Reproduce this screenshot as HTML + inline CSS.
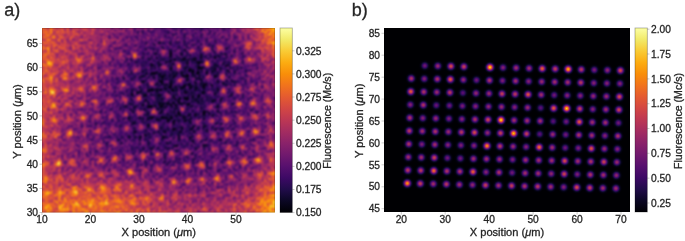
<!DOCTYPE html>
<html><head><meta charset="utf-8"><style>
html,body{margin:0;padding:0;background:#fff;}
body{width:685px;height:241px;overflow:hidden;}
svg{display:block;}
text{font-family:"Liberation Sans",sans-serif;fill:#262626;stroke:#262626;stroke-width:0.3px;}
</style></head><body>
<svg width="685" height="241" viewBox="0 0 685 241">
<defs>
<filter id="cmL" x="0" y="0" width="1" height="1" color-interpolation-filters="sRGB"><feTurbulence type="fractalNoise" baseFrequency="0.36" numOctaves="2" seed="4" result="t"/><feColorMatrix in="t" type="matrix" values="1 0 0 0 0  1 0 0 0 0  1 0 0 0 0  0 0 0 0 1" result="n"/><feComposite in="SourceGraphic" in2="n" operator="arithmetic" k1="0" k2="1" k3="0.62" k4="-0.310" result="m"/><feComponentTransfer in="m"><feFuncR type="table" tableValues="0.001 0.008 0.019 0.042 0.066 0.099 0.129 0.170 0.204 0.245 0.278 0.310 0.348 0.379 0.416 0.447 0.485 0.516 0.553 0.585 0.616 0.652 0.683 0.718 0.747 0.781 0.807 0.837 0.861 0.882 0.906 0.923 0.942 0.955 0.967 0.976 0.983 0.987 0.988 0.987 0.983 0.976 0.968 0.957 0.949 0.948 0.962 0.988"/><feFuncG type="table" tableValues="0.000 0.006 0.015 0.028 0.039 0.046 0.047 0.042 0.038 0.037 0.042 0.051 0.065 0.076 0.090 0.102 0.115 0.126 0.139 0.150 0.162 0.176 0.190 0.207 0.222 0.243 0.263 0.288 0.312 0.337 0.370 0.399 0.436 0.469 0.509 0.544 0.587 0.623 0.660 0.706 0.744 0.790 0.829 0.874 0.910 0.949 0.976 0.998"/><feFuncB type="table" tableValues="0.014 0.047 0.089 0.141 0.187 0.244 0.291 0.341 0.373 0.400 0.414 0.424 0.430 0.433 0.433 0.431 0.427 0.421 0.412 0.402 0.391 0.376 0.361 0.341 0.323 0.300 0.279 0.253 0.231 0.208 0.179 0.155 0.125 0.100 0.069 0.044 0.025 0.028 0.052 0.096 0.138 0.196 0.250 0.324 0.395 0.491 0.572 0.645"/><feFuncA type="identity"/></feComponentTransfer><feGaussianBlur stdDeviation="0.9"/></filter>
<filter id="cmR" x="0" y="0" width="1" height="1" color-interpolation-filters="sRGB"><feComponentTransfer in="SourceGraphic"><feFuncR type="table" tableValues="0.001 0.008 0.019 0.042 0.066 0.099 0.129 0.170 0.204 0.245 0.278 0.310 0.348 0.379 0.416 0.447 0.485 0.516 0.553 0.585 0.616 0.652 0.683 0.718 0.747 0.781 0.807 0.837 0.861 0.882 0.906 0.923 0.942 0.955 0.967 0.976 0.983 0.987 0.988 0.987 0.983 0.976 0.968 0.957 0.949 0.948 0.962 0.988"/><feFuncG type="table" tableValues="0.000 0.006 0.015 0.028 0.039 0.046 0.047 0.042 0.038 0.037 0.042 0.051 0.065 0.076 0.090 0.102 0.115 0.126 0.139 0.150 0.162 0.176 0.190 0.207 0.222 0.243 0.263 0.288 0.312 0.337 0.370 0.399 0.436 0.469 0.509 0.544 0.587 0.623 0.660 0.706 0.744 0.790 0.829 0.874 0.910 0.949 0.976 0.998"/><feFuncB type="table" tableValues="0.014 0.047 0.089 0.141 0.187 0.244 0.291 0.341 0.373 0.400 0.414 0.424 0.430 0.433 0.433 0.431 0.427 0.421 0.412 0.402 0.391 0.376 0.361 0.341 0.323 0.300 0.279 0.253 0.231 0.208 0.179 0.155 0.125 0.100 0.069 0.044 0.025 0.028 0.052 0.096 0.138 0.196 0.250 0.324 0.395 0.491 0.572 0.645"/><feFuncA type="identity"/></feComponentTransfer><feGaussianBlur stdDeviation="0.5"/></filter>
<filter id="tb" x="-0.05" y="-0.05" width="1.1" height="1.1"><feGaussianBlur stdDeviation="0.35"/></filter>
<filter id="blur" x="-0.2" y="-0.2" width="1.4" height="1.4"><feGaussianBlur stdDeviation="4"/></filter>
<radialGradient id="g"><stop offset="0.0" stop-color="#fff" stop-opacity="1.000"/><stop offset="0.1" stop-color="#fff" stop-opacity="0.956"/><stop offset="0.2" stop-color="#fff" stop-opacity="0.835"/><stop offset="0.3" stop-color="#fff" stop-opacity="0.667"/><stop offset="0.4" stop-color="#fff" stop-opacity="0.487"/><stop offset="0.5" stop-color="#fff" stop-opacity="0.325"/><stop offset="0.6" stop-color="#fff" stop-opacity="0.198"/><stop offset="0.7" stop-color="#fff" stop-opacity="0.110"/><stop offset="0.8" stop-color="#fff" stop-opacity="0.056"/><stop offset="0.9" stop-color="#fff" stop-opacity="0.026"/><stop offset="1.0" stop-color="#fff" stop-opacity="0.000"/></radialGradient>
<linearGradient id="cb" x1="0" y1="0" x2="0" y2="1"><stop offset="0.0000" stop-color="#fcffa4"/><stop offset="0.0625" stop-color="#f2ea69"/><stop offset="0.1250" stop-color="#f9cb35"/><stop offset="0.1875" stop-color="#fcac11"/><stop offset="0.2500" stop-color="#f98e09"/><stop offset="0.3125" stop-color="#f1731d"/><stop offset="0.3750" stop-color="#e45a31"/><stop offset="0.4375" stop-color="#d24644"/><stop offset="0.5000" stop-color="#bc3754"/><stop offset="0.5625" stop-color="#a32c61"/><stop offset="0.6250" stop-color="#8a226a"/><stop offset="0.6875" stop-color="#71196e"/><stop offset="0.7500" stop-color="#57106e"/><stop offset="0.8125" stop-color="#3d0965"/><stop offset="0.8750" stop-color="#210c4a"/><stop offset="0.9375" stop-color="#0b0724"/><stop offset="1.0000" stop-color="#000004"/></linearGradient>
</defs>
<rect width="685" height="241" fill="#fff"/>
<svg x="42" y="28" width="233" height="184.5" overflow="hidden">
<g filter="url(#cmL)">
<g filter="url(#blur)"><rect x="-18" y="-18" width="6" height="6" fill="rgb(163,163,163)"/><rect x="-12" y="-18" width="6" height="6" fill="rgb(163,163,163)"/><rect x="-6" y="-18" width="6" height="6" fill="rgb(163,163,163)"/><rect x="0" y="-18" width="6" height="6" fill="rgb(162,162,162)"/><rect x="6" y="-18" width="6" height="6" fill="rgb(153,153,153)"/><rect x="12" y="-18" width="6" height="6" fill="rgb(142,142,142)"/><rect x="18" y="-18" width="6" height="6" fill="rgb(135,135,135)"/><rect x="24" y="-18" width="6" height="6" fill="rgb(131,131,131)"/><rect x="30" y="-18" width="6" height="6" fill="rgb(127,127,127)"/><rect x="36" y="-18" width="6" height="6" fill="rgb(124,124,124)"/><rect x="42" y="-18" width="6" height="6" fill="rgb(119,119,119)"/><rect x="48" y="-18" width="6" height="6" fill="rgb(113,113,113)"/><rect x="54" y="-18" width="6" height="6" fill="rgb(106,106,106)"/><rect x="60" y="-18" width="6" height="6" fill="rgb(100,100,100)"/><rect x="66" y="-18" width="6" height="6" fill="rgb(94,94,94)"/><rect x="72" y="-18" width="6" height="6" fill="rgb(89,89,89)"/><rect x="78" y="-18" width="6" height="6" fill="rgb(84,84,84)"/><rect x="84" y="-18" width="6" height="6" fill="rgb(80,80,80)"/><rect x="90" y="-18" width="6" height="6" fill="rgb(75,75,75)"/><rect x="96" y="-18" width="6" height="6" fill="rgb(71,71,71)"/><rect x="102" y="-18" width="6" height="6" fill="rgb(69,69,69)"/><rect x="108" y="-18" width="6" height="6" fill="rgb(67,67,67)"/><rect x="114" y="-18" width="6" height="6" fill="rgb(65,65,65)"/><rect x="120" y="-18" width="6" height="6" fill="rgb(63,63,63)"/><rect x="126" y="-18" width="6" height="6" fill="rgb(61,61,61)"/><rect x="132" y="-18" width="6" height="6" fill="rgb(61,61,61)"/><rect x="138" y="-18" width="6" height="6" fill="rgb(61,61,61)"/><rect x="144" y="-18" width="6" height="6" fill="rgb(61,61,61)"/><rect x="150" y="-18" width="6" height="6" fill="rgb(61,61,61)"/><rect x="156" y="-18" width="6" height="6" fill="rgb(62,62,62)"/><rect x="162" y="-18" width="6" height="6" fill="rgb(64,64,64)"/><rect x="168" y="-18" width="6" height="6" fill="rgb(66,66,66)"/><rect x="174" y="-18" width="6" height="6" fill="rgb(68,68,68)"/><rect x="180" y="-18" width="6" height="6" fill="rgb(70,70,70)"/><rect x="186" y="-18" width="6" height="6" fill="rgb(73,73,73)"/><rect x="192" y="-18" width="6" height="6" fill="rgb(84,84,84)"/><rect x="198" y="-18" width="6" height="6" fill="rgb(94,94,94)"/><rect x="204" y="-18" width="6" height="6" fill="rgb(104,104,104)"/><rect x="210" y="-18" width="6" height="6" fill="rgb(115,115,115)"/><rect x="216" y="-18" width="6" height="6" fill="rgb(142,142,142)"/><rect x="222" y="-18" width="6" height="6" fill="rgb(169,169,169)"/><rect x="228" y="-18" width="6" height="6" fill="rgb(188,188,188)"/><rect x="234" y="-18" width="6" height="6" fill="rgb(194,194,194)"/><rect x="240" y="-18" width="6" height="6" fill="rgb(194,194,194)"/><rect x="246" y="-18" width="6" height="6" fill="rgb(194,194,194)"/><rect x="-18" y="-12" width="6" height="6" fill="rgb(163,163,163)"/><rect x="-12" y="-12" width="6" height="6" fill="rgb(163,163,163)"/><rect x="-6" y="-12" width="6" height="6" fill="rgb(163,163,163)"/><rect x="0" y="-12" width="6" height="6" fill="rgb(162,162,162)"/><rect x="6" y="-12" width="6" height="6" fill="rgb(153,153,153)"/><rect x="12" y="-12" width="6" height="6" fill="rgb(142,142,142)"/><rect x="18" y="-12" width="6" height="6" fill="rgb(135,135,135)"/><rect x="24" y="-12" width="6" height="6" fill="rgb(131,131,131)"/><rect x="30" y="-12" width="6" height="6" fill="rgb(127,127,127)"/><rect x="36" y="-12" width="6" height="6" fill="rgb(124,124,124)"/><rect x="42" y="-12" width="6" height="6" fill="rgb(119,119,119)"/><rect x="48" y="-12" width="6" height="6" fill="rgb(113,113,113)"/><rect x="54" y="-12" width="6" height="6" fill="rgb(106,106,106)"/><rect x="60" y="-12" width="6" height="6" fill="rgb(100,100,100)"/><rect x="66" y="-12" width="6" height="6" fill="rgb(94,94,94)"/><rect x="72" y="-12" width="6" height="6" fill="rgb(89,89,89)"/><rect x="78" y="-12" width="6" height="6" fill="rgb(84,84,84)"/><rect x="84" y="-12" width="6" height="6" fill="rgb(80,80,80)"/><rect x="90" y="-12" width="6" height="6" fill="rgb(75,75,75)"/><rect x="96" y="-12" width="6" height="6" fill="rgb(71,71,71)"/><rect x="102" y="-12" width="6" height="6" fill="rgb(69,69,69)"/><rect x="108" y="-12" width="6" height="6" fill="rgb(67,67,67)"/><rect x="114" y="-12" width="6" height="6" fill="rgb(65,65,65)"/><rect x="120" y="-12" width="6" height="6" fill="rgb(63,63,63)"/><rect x="126" y="-12" width="6" height="6" fill="rgb(61,61,61)"/><rect x="132" y="-12" width="6" height="6" fill="rgb(61,61,61)"/><rect x="138" y="-12" width="6" height="6" fill="rgb(61,61,61)"/><rect x="144" y="-12" width="6" height="6" fill="rgb(61,61,61)"/><rect x="150" y="-12" width="6" height="6" fill="rgb(61,61,61)"/><rect x="156" y="-12" width="6" height="6" fill="rgb(62,62,62)"/><rect x="162" y="-12" width="6" height="6" fill="rgb(64,64,64)"/><rect x="168" y="-12" width="6" height="6" fill="rgb(66,66,66)"/><rect x="174" y="-12" width="6" height="6" fill="rgb(68,68,68)"/><rect x="180" y="-12" width="6" height="6" fill="rgb(70,70,70)"/><rect x="186" y="-12" width="6" height="6" fill="rgb(73,73,73)"/><rect x="192" y="-12" width="6" height="6" fill="rgb(84,84,84)"/><rect x="198" y="-12" width="6" height="6" fill="rgb(94,94,94)"/><rect x="204" y="-12" width="6" height="6" fill="rgb(104,104,104)"/><rect x="210" y="-12" width="6" height="6" fill="rgb(115,115,115)"/><rect x="216" y="-12" width="6" height="6" fill="rgb(142,142,142)"/><rect x="222" y="-12" width="6" height="6" fill="rgb(169,169,169)"/><rect x="228" y="-12" width="6" height="6" fill="rgb(188,188,188)"/><rect x="234" y="-12" width="6" height="6" fill="rgb(194,194,194)"/><rect x="240" y="-12" width="6" height="6" fill="rgb(194,194,194)"/><rect x="246" y="-12" width="6" height="6" fill="rgb(194,194,194)"/><rect x="-18" y="-6" width="6" height="6" fill="rgb(163,163,163)"/><rect x="-12" y="-6" width="6" height="6" fill="rgb(163,163,163)"/><rect x="-6" y="-6" width="6" height="6" fill="rgb(163,163,163)"/><rect x="0" y="-6" width="6" height="6" fill="rgb(162,162,162)"/><rect x="6" y="-6" width="6" height="6" fill="rgb(153,153,153)"/><rect x="12" y="-6" width="6" height="6" fill="rgb(142,142,142)"/><rect x="18" y="-6" width="6" height="6" fill="rgb(135,135,135)"/><rect x="24" y="-6" width="6" height="6" fill="rgb(131,131,131)"/><rect x="30" y="-6" width="6" height="6" fill="rgb(127,127,127)"/><rect x="36" y="-6" width="6" height="6" fill="rgb(124,124,124)"/><rect x="42" y="-6" width="6" height="6" fill="rgb(119,119,119)"/><rect x="48" y="-6" width="6" height="6" fill="rgb(113,113,113)"/><rect x="54" y="-6" width="6" height="6" fill="rgb(106,106,106)"/><rect x="60" y="-6" width="6" height="6" fill="rgb(100,100,100)"/><rect x="66" y="-6" width="6" height="6" fill="rgb(94,94,94)"/><rect x="72" y="-6" width="6" height="6" fill="rgb(89,89,89)"/><rect x="78" y="-6" width="6" height="6" fill="rgb(84,84,84)"/><rect x="84" y="-6" width="6" height="6" fill="rgb(80,80,80)"/><rect x="90" y="-6" width="6" height="6" fill="rgb(75,75,75)"/><rect x="96" y="-6" width="6" height="6" fill="rgb(71,71,71)"/><rect x="102" y="-6" width="6" height="6" fill="rgb(69,69,69)"/><rect x="108" y="-6" width="6" height="6" fill="rgb(67,67,67)"/><rect x="114" y="-6" width="6" height="6" fill="rgb(65,65,65)"/><rect x="120" y="-6" width="6" height="6" fill="rgb(63,63,63)"/><rect x="126" y="-6" width="6" height="6" fill="rgb(61,61,61)"/><rect x="132" y="-6" width="6" height="6" fill="rgb(61,61,61)"/><rect x="138" y="-6" width="6" height="6" fill="rgb(61,61,61)"/><rect x="144" y="-6" width="6" height="6" fill="rgb(61,61,61)"/><rect x="150" y="-6" width="6" height="6" fill="rgb(61,61,61)"/><rect x="156" y="-6" width="6" height="6" fill="rgb(62,62,62)"/><rect x="162" y="-6" width="6" height="6" fill="rgb(64,64,64)"/><rect x="168" y="-6" width="6" height="6" fill="rgb(66,66,66)"/><rect x="174" y="-6" width="6" height="6" fill="rgb(68,68,68)"/><rect x="180" y="-6" width="6" height="6" fill="rgb(70,70,70)"/><rect x="186" y="-6" width="6" height="6" fill="rgb(73,73,73)"/><rect x="192" y="-6" width="6" height="6" fill="rgb(84,84,84)"/><rect x="198" y="-6" width="6" height="6" fill="rgb(94,94,94)"/><rect x="204" y="-6" width="6" height="6" fill="rgb(104,104,104)"/><rect x="210" y="-6" width="6" height="6" fill="rgb(115,115,115)"/><rect x="216" y="-6" width="6" height="6" fill="rgb(142,142,142)"/><rect x="222" y="-6" width="6" height="6" fill="rgb(169,169,169)"/><rect x="228" y="-6" width="6" height="6" fill="rgb(188,188,188)"/><rect x="234" y="-6" width="6" height="6" fill="rgb(194,194,194)"/><rect x="240" y="-6" width="6" height="6" fill="rgb(194,194,194)"/><rect x="246" y="-6" width="6" height="6" fill="rgb(194,194,194)"/><rect x="-18" y="0" width="6" height="6" fill="rgb(162,162,162)"/><rect x="-12" y="0" width="6" height="6" fill="rgb(162,162,162)"/><rect x="-6" y="0" width="6" height="6" fill="rgb(162,162,162)"/><rect x="0" y="0" width="6" height="6" fill="rgb(160,160,160)"/><rect x="6" y="0" width="6" height="6" fill="rgb(152,152,152)"/><rect x="12" y="0" width="6" height="6" fill="rgb(141,141,141)"/><rect x="18" y="0" width="6" height="6" fill="rgb(133,133,133)"/><rect x="24" y="0" width="6" height="6" fill="rgb(130,130,130)"/><rect x="30" y="0" width="6" height="6" fill="rgb(126,126,126)"/><rect x="36" y="0" width="6" height="6" fill="rgb(122,122,122)"/><rect x="42" y="0" width="6" height="6" fill="rgb(118,118,118)"/><rect x="48" y="0" width="6" height="6" fill="rgb(111,111,111)"/><rect x="54" y="0" width="6" height="6" fill="rgb(105,105,105)"/><rect x="60" y="0" width="6" height="6" fill="rgb(98,98,98)"/><rect x="66" y="0" width="6" height="6" fill="rgb(92,92,92)"/><rect x="72" y="0" width="6" height="6" fill="rgb(88,88,88)"/><rect x="78" y="0" width="6" height="6" fill="rgb(83,83,83)"/><rect x="84" y="0" width="6" height="6" fill="rgb(79,79,79)"/><rect x="90" y="0" width="6" height="6" fill="rgb(74,74,74)"/><rect x="96" y="0" width="6" height="6" fill="rgb(70,70,70)"/><rect x="102" y="0" width="6" height="6" fill="rgb(68,68,68)"/><rect x="108" y="0" width="6" height="6" fill="rgb(66,66,66)"/><rect x="114" y="0" width="6" height="6" fill="rgb(64,64,64)"/><rect x="120" y="0" width="6" height="6" fill="rgb(62,62,62)"/><rect x="126" y="0" width="6" height="6" fill="rgb(61,61,61)"/><rect x="132" y="0" width="6" height="6" fill="rgb(61,61,61)"/><rect x="138" y="0" width="6" height="6" fill="rgb(61,61,61)"/><rect x="144" y="0" width="6" height="6" fill="rgb(61,61,61)"/><rect x="150" y="0" width="6" height="6" fill="rgb(61,61,61)"/><rect x="156" y="0" width="6" height="6" fill="rgb(61,61,61)"/><rect x="162" y="0" width="6" height="6" fill="rgb(63,63,63)"/><rect x="168" y="0" width="6" height="6" fill="rgb(65,65,65)"/><rect x="174" y="0" width="6" height="6" fill="rgb(67,67,67)"/><rect x="180" y="0" width="6" height="6" fill="rgb(69,69,69)"/><rect x="186" y="0" width="6" height="6" fill="rgb(72,72,72)"/><rect x="192" y="0" width="6" height="6" fill="rgb(83,83,83)"/><rect x="198" y="0" width="6" height="6" fill="rgb(93,93,93)"/><rect x="204" y="0" width="6" height="6" fill="rgb(103,103,103)"/><rect x="210" y="0" width="6" height="6" fill="rgb(113,113,113)"/><rect x="216" y="0" width="6" height="6" fill="rgb(140,140,140)"/><rect x="222" y="0" width="6" height="6" fill="rgb(166,166,166)"/><rect x="228" y="0" width="6" height="6" fill="rgb(185,185,185)"/><rect x="234" y="0" width="6" height="6" fill="rgb(191,191,191)"/><rect x="240" y="0" width="6" height="6" fill="rgb(191,191,191)"/><rect x="246" y="0" width="6" height="6" fill="rgb(191,191,191)"/><rect x="-18" y="6" width="6" height="6" fill="rgb(159,159,159)"/><rect x="-12" y="6" width="6" height="6" fill="rgb(159,159,159)"/><rect x="-6" y="6" width="6" height="6" fill="rgb(159,159,159)"/><rect x="0" y="6" width="6" height="6" fill="rgb(158,158,158)"/><rect x="6" y="6" width="6" height="6" fill="rgb(149,149,149)"/><rect x="12" y="6" width="6" height="6" fill="rgb(138,138,138)"/><rect x="18" y="6" width="6" height="6" fill="rgb(131,131,131)"/><rect x="24" y="6" width="6" height="6" fill="rgb(127,127,127)"/><rect x="30" y="6" width="6" height="6" fill="rgb(123,123,123)"/><rect x="36" y="6" width="6" height="6" fill="rgb(120,120,120)"/><rect x="42" y="6" width="6" height="6" fill="rgb(115,115,115)"/><rect x="48" y="6" width="6" height="6" fill="rgb(109,109,109)"/><rect x="54" y="6" width="6" height="6" fill="rgb(102,102,102)"/><rect x="60" y="6" width="6" height="6" fill="rgb(96,96,96)"/><rect x="66" y="6" width="6" height="6" fill="rgb(90,90,90)"/><rect x="72" y="6" width="6" height="6" fill="rgb(86,86,86)"/><rect x="78" y="6" width="6" height="6" fill="rgb(81,81,81)"/><rect x="84" y="6" width="6" height="6" fill="rgb(77,77,77)"/><rect x="90" y="6" width="6" height="6" fill="rgb(73,73,73)"/><rect x="96" y="6" width="6" height="6" fill="rgb(69,69,69)"/><rect x="102" y="6" width="6" height="6" fill="rgb(67,67,67)"/><rect x="108" y="6" width="6" height="6" fill="rgb(65,65,65)"/><rect x="114" y="6" width="6" height="6" fill="rgb(63,63,63)"/><rect x="120" y="6" width="6" height="6" fill="rgb(61,61,61)"/><rect x="126" y="6" width="6" height="6" fill="rgb(59,59,59)"/><rect x="132" y="6" width="6" height="6" fill="rgb(59,59,59)"/><rect x="138" y="6" width="6" height="6" fill="rgb(59,59,59)"/><rect x="144" y="6" width="6" height="6" fill="rgb(59,59,59)"/><rect x="150" y="6" width="6" height="6" fill="rgb(59,59,59)"/><rect x="156" y="6" width="6" height="6" fill="rgb(60,60,60)"/><rect x="162" y="6" width="6" height="6" fill="rgb(62,62,62)"/><rect x="168" y="6" width="6" height="6" fill="rgb(64,64,64)"/><rect x="174" y="6" width="6" height="6" fill="rgb(66,66,66)"/><rect x="180" y="6" width="6" height="6" fill="rgb(68,68,68)"/><rect x="186" y="6" width="6" height="6" fill="rgb(71,71,71)"/><rect x="192" y="6" width="6" height="6" fill="rgb(81,81,81)"/><rect x="198" y="6" width="6" height="6" fill="rgb(90,90,90)"/><rect x="204" y="6" width="6" height="6" fill="rgb(100,100,100)"/><rect x="210" y="6" width="6" height="6" fill="rgb(109,109,109)"/><rect x="216" y="6" width="6" height="6" fill="rgb(135,135,135)"/><rect x="222" y="6" width="6" height="6" fill="rgb(161,161,161)"/><rect x="228" y="6" width="6" height="6" fill="rgb(180,180,180)"/><rect x="234" y="6" width="6" height="6" fill="rgb(186,186,186)"/><rect x="240" y="6" width="6" height="6" fill="rgb(186,186,186)"/><rect x="246" y="6" width="6" height="6" fill="rgb(186,186,186)"/><rect x="-18" y="12" width="6" height="6" fill="rgb(157,157,157)"/><rect x="-12" y="12" width="6" height="6" fill="rgb(157,157,157)"/><rect x="-6" y="12" width="6" height="6" fill="rgb(157,157,157)"/><rect x="0" y="12" width="6" height="6" fill="rgb(155,155,155)"/><rect x="6" y="12" width="6" height="6" fill="rgb(147,147,147)"/><rect x="12" y="12" width="6" height="6" fill="rgb(135,135,135)"/><rect x="18" y="12" width="6" height="6" fill="rgb(128,128,128)"/><rect x="24" y="12" width="6" height="6" fill="rgb(124,124,124)"/><rect x="30" y="12" width="6" height="6" fill="rgb(120,120,120)"/><rect x="36" y="12" width="6" height="6" fill="rgb(117,117,117)"/><rect x="42" y="12" width="6" height="6" fill="rgb(112,112,112)"/><rect x="48" y="12" width="6" height="6" fill="rgb(106,106,106)"/><rect x="54" y="12" width="6" height="6" fill="rgb(99,99,99)"/><rect x="60" y="12" width="6" height="6" fill="rgb(93,93,93)"/><rect x="66" y="12" width="6" height="6" fill="rgb(86,86,86)"/><rect x="72" y="12" width="6" height="6" fill="rgb(82,82,82)"/><rect x="78" y="12" width="6" height="6" fill="rgb(78,78,78)"/><rect x="84" y="12" width="6" height="6" fill="rgb(73,73,73)"/><rect x="90" y="12" width="6" height="6" fill="rgb(69,69,69)"/><rect x="96" y="12" width="6" height="6" fill="rgb(65,65,65)"/><rect x="102" y="12" width="6" height="6" fill="rgb(63,63,63)"/><rect x="108" y="12" width="6" height="6" fill="rgb(61,61,61)"/><rect x="114" y="12" width="6" height="6" fill="rgb(58,58,58)"/><rect x="120" y="12" width="6" height="6" fill="rgb(56,56,56)"/><rect x="126" y="12" width="6" height="6" fill="rgb(54,54,54)"/><rect x="132" y="12" width="6" height="6" fill="rgb(54,54,54)"/><rect x="138" y="12" width="6" height="6" fill="rgb(54,54,54)"/><rect x="144" y="12" width="6" height="6" fill="rgb(54,54,54)"/><rect x="150" y="12" width="6" height="6" fill="rgb(54,54,54)"/><rect x="156" y="12" width="6" height="6" fill="rgb(55,55,55)"/><rect x="162" y="12" width="6" height="6" fill="rgb(57,57,57)"/><rect x="168" y="12" width="6" height="6" fill="rgb(59,59,59)"/><rect x="174" y="12" width="6" height="6" fill="rgb(61,61,61)"/><rect x="180" y="12" width="6" height="6" fill="rgb(63,63,63)"/><rect x="186" y="12" width="6" height="6" fill="rgb(66,66,66)"/><rect x="192" y="12" width="6" height="6" fill="rgb(75,75,75)"/><rect x="198" y="12" width="6" height="6" fill="rgb(84,84,84)"/><rect x="204" y="12" width="6" height="6" fill="rgb(93,93,93)"/><rect x="210" y="12" width="6" height="6" fill="rgb(102,102,102)"/><rect x="216" y="12" width="6" height="6" fill="rgb(126,126,126)"/><rect x="222" y="12" width="6" height="6" fill="rgb(150,150,150)"/><rect x="228" y="12" width="6" height="6" fill="rgb(168,168,168)"/><rect x="234" y="12" width="6" height="6" fill="rgb(174,174,174)"/><rect x="240" y="12" width="6" height="6" fill="rgb(174,174,174)"/><rect x="246" y="12" width="6" height="6" fill="rgb(174,174,174)"/><rect x="-18" y="18" width="6" height="6" fill="rgb(156,156,156)"/><rect x="-12" y="18" width="6" height="6" fill="rgb(156,156,156)"/><rect x="-6" y="18" width="6" height="6" fill="rgb(156,156,156)"/><rect x="0" y="18" width="6" height="6" fill="rgb(153,153,153)"/><rect x="6" y="18" width="6" height="6" fill="rgb(144,144,144)"/><rect x="12" y="18" width="6" height="6" fill="rgb(132,132,132)"/><rect x="18" y="18" width="6" height="6" fill="rgb(124,124,124)"/><rect x="24" y="18" width="6" height="6" fill="rgb(121,121,121)"/><rect x="30" y="18" width="6" height="6" fill="rgb(117,117,117)"/><rect x="36" y="18" width="6" height="6" fill="rgb(113,113,113)"/><rect x="42" y="18" width="6" height="6" fill="rgb(109,109,109)"/><rect x="48" y="18" width="6" height="6" fill="rgb(102,102,102)"/><rect x="54" y="18" width="6" height="6" fill="rgb(95,95,95)"/><rect x="60" y="18" width="6" height="6" fill="rgb(89,89,89)"/><rect x="66" y="18" width="6" height="6" fill="rgb(82,82,82)"/><rect x="72" y="18" width="6" height="6" fill="rgb(77,77,77)"/><rect x="78" y="18" width="6" height="6" fill="rgb(72,72,72)"/><rect x="84" y="18" width="6" height="6" fill="rgb(67,67,67)"/><rect x="90" y="18" width="6" height="6" fill="rgb(63,63,63)"/><rect x="96" y="18" width="6" height="6" fill="rgb(58,58,58)"/><rect x="102" y="18" width="6" height="6" fill="rgb(56,56,56)"/><rect x="108" y="18" width="6" height="6" fill="rgb(53,53,53)"/><rect x="114" y="18" width="6" height="6" fill="rgb(51,51,51)"/><rect x="120" y="18" width="6" height="6" fill="rgb(48,48,48)"/><rect x="126" y="18" width="6" height="6" fill="rgb(46,46,46)"/><rect x="132" y="18" width="6" height="6" fill="rgb(46,46,46)"/><rect x="138" y="18" width="6" height="6" fill="rgb(46,46,46)"/><rect x="144" y="18" width="6" height="6" fill="rgb(46,46,46)"/><rect x="150" y="18" width="6" height="6" fill="rgb(46,46,46)"/><rect x="156" y="18" width="6" height="6" fill="rgb(47,47,47)"/><rect x="162" y="18" width="6" height="6" fill="rgb(49,49,49)"/><rect x="168" y="18" width="6" height="6" fill="rgb(51,51,51)"/><rect x="174" y="18" width="6" height="6" fill="rgb(53,53,53)"/><rect x="180" y="18" width="6" height="6" fill="rgb(56,56,56)"/><rect x="186" y="18" width="6" height="6" fill="rgb(59,59,59)"/><rect x="192" y="18" width="6" height="6" fill="rgb(67,67,67)"/><rect x="198" y="18" width="6" height="6" fill="rgb(75,75,75)"/><rect x="204" y="18" width="6" height="6" fill="rgb(83,83,83)"/><rect x="210" y="18" width="6" height="6" fill="rgb(91,91,91)"/><rect x="216" y="18" width="6" height="6" fill="rgb(112,112,112)"/><rect x="222" y="18" width="6" height="6" fill="rgb(133,133,133)"/><rect x="228" y="18" width="6" height="6" fill="rgb(150,150,150)"/><rect x="234" y="18" width="6" height="6" fill="rgb(155,155,155)"/><rect x="240" y="18" width="6" height="6" fill="rgb(155,155,155)"/><rect x="246" y="18" width="6" height="6" fill="rgb(155,155,155)"/><rect x="-18" y="24" width="6" height="6" fill="rgb(155,155,155)"/><rect x="-12" y="24" width="6" height="6" fill="rgb(155,155,155)"/><rect x="-6" y="24" width="6" height="6" fill="rgb(155,155,155)"/><rect x="0" y="24" width="6" height="6" fill="rgb(151,151,151)"/><rect x="6" y="24" width="6" height="6" fill="rgb(141,141,141)"/><rect x="12" y="24" width="6" height="6" fill="rgb(129,129,129)"/><rect x="18" y="24" width="6" height="6" fill="rgb(121,121,121)"/><rect x="24" y="24" width="6" height="6" fill="rgb(117,117,117)"/><rect x="30" y="24" width="6" height="6" fill="rgb(113,113,113)"/><rect x="36" y="24" width="6" height="6" fill="rgb(110,110,110)"/><rect x="42" y="24" width="6" height="6" fill="rgb(105,105,105)"/><rect x="48" y="24" width="6" height="6" fill="rgb(98,98,98)"/><rect x="54" y="24" width="6" height="6" fill="rgb(91,91,91)"/><rect x="60" y="24" width="6" height="6" fill="rgb(85,85,85)"/><rect x="66" y="24" width="6" height="6" fill="rgb(78,78,78)"/><rect x="72" y="24" width="6" height="6" fill="rgb(72,72,72)"/><rect x="78" y="24" width="6" height="6" fill="rgb(67,67,67)"/><rect x="84" y="24" width="6" height="6" fill="rgb(61,61,61)"/><rect x="90" y="24" width="6" height="6" fill="rgb(56,56,56)"/><rect x="96" y="24" width="6" height="6" fill="rgb(51,51,51)"/><rect x="102" y="24" width="6" height="6" fill="rgb(48,48,48)"/><rect x="108" y="24" width="6" height="6" fill="rgb(46,46,46)"/><rect x="114" y="24" width="6" height="6" fill="rgb(43,43,43)"/><rect x="120" y="24" width="6" height="6" fill="rgb(40,40,40)"/><rect x="126" y="24" width="6" height="6" fill="rgb(38,38,38)"/><rect x="132" y="24" width="6" height="6" fill="rgb(38,38,38)"/><rect x="138" y="24" width="6" height="6" fill="rgb(38,38,38)"/><rect x="144" y="24" width="6" height="6" fill="rgb(38,38,38)"/><rect x="150" y="24" width="6" height="6" fill="rgb(38,38,38)"/><rect x="156" y="24" width="6" height="6" fill="rgb(38,38,38)"/><rect x="162" y="24" width="6" height="6" fill="rgb(41,41,41)"/><rect x="168" y="24" width="6" height="6" fill="rgb(43,43,43)"/><rect x="174" y="24" width="6" height="6" fill="rgb(45,45,45)"/><rect x="180" y="24" width="6" height="6" fill="rgb(48,48,48)"/><rect x="186" y="24" width="6" height="6" fill="rgb(51,51,51)"/><rect x="192" y="24" width="6" height="6" fill="rgb(58,58,58)"/><rect x="198" y="24" width="6" height="6" fill="rgb(66,66,66)"/><rect x="204" y="24" width="6" height="6" fill="rgb(74,74,74)"/><rect x="210" y="24" width="6" height="6" fill="rgb(81,81,81)"/><rect x="216" y="24" width="6" height="6" fill="rgb(98,98,98)"/><rect x="222" y="24" width="6" height="6" fill="rgb(115,115,115)"/><rect x="228" y="24" width="6" height="6" fill="rgb(131,131,131)"/><rect x="234" y="24" width="6" height="6" fill="rgb(137,137,137)"/><rect x="240" y="24" width="6" height="6" fill="rgb(137,137,137)"/><rect x="246" y="24" width="6" height="6" fill="rgb(137,137,137)"/><rect x="-18" y="30" width="6" height="6" fill="rgb(153,153,153)"/><rect x="-12" y="30" width="6" height="6" fill="rgb(153,153,153)"/><rect x="-6" y="30" width="6" height="6" fill="rgb(153,153,153)"/><rect x="0" y="30" width="6" height="6" fill="rgb(149,149,149)"/><rect x="6" y="30" width="6" height="6" fill="rgb(138,138,138)"/><rect x="12" y="30" width="6" height="6" fill="rgb(125,125,125)"/><rect x="18" y="30" width="6" height="6" fill="rgb(117,117,117)"/><rect x="24" y="30" width="6" height="6" fill="rgb(114,114,114)"/><rect x="30" y="30" width="6" height="6" fill="rgb(110,110,110)"/><rect x="36" y="30" width="6" height="6" fill="rgb(106,106,106)"/><rect x="42" y="30" width="6" height="6" fill="rgb(102,102,102)"/><rect x="48" y="30" width="6" height="6" fill="rgb(95,95,95)"/><rect x="54" y="30" width="6" height="6" fill="rgb(87,87,87)"/><rect x="60" y="30" width="6" height="6" fill="rgb(80,80,80)"/><rect x="66" y="30" width="6" height="6" fill="rgb(74,74,74)"/><rect x="72" y="30" width="6" height="6" fill="rgb(68,68,68)"/><rect x="78" y="30" width="6" height="6" fill="rgb(62,62,62)"/><rect x="84" y="30" width="6" height="6" fill="rgb(56,56,56)"/><rect x="90" y="30" width="6" height="6" fill="rgb(50,50,50)"/><rect x="96" y="30" width="6" height="6" fill="rgb(44,44,44)"/><rect x="102" y="30" width="6" height="6" fill="rgb(41,41,41)"/><rect x="108" y="30" width="6" height="6" fill="rgb(38,38,38)"/><rect x="114" y="30" width="6" height="6" fill="rgb(35,35,35)"/><rect x="120" y="30" width="6" height="6" fill="rgb(32,32,32)"/><rect x="126" y="30" width="6" height="6" fill="rgb(29,29,29)"/><rect x="132" y="30" width="6" height="6" fill="rgb(29,29,29)"/><rect x="138" y="30" width="6" height="6" fill="rgb(29,29,29)"/><rect x="144" y="30" width="6" height="6" fill="rgb(29,29,29)"/><rect x="150" y="30" width="6" height="6" fill="rgb(29,29,29)"/><rect x="156" y="30" width="6" height="6" fill="rgb(30,30,30)"/><rect x="162" y="30" width="6" height="6" fill="rgb(32,32,32)"/><rect x="168" y="30" width="6" height="6" fill="rgb(35,35,35)"/><rect x="174" y="30" width="6" height="6" fill="rgb(37,37,37)"/><rect x="180" y="30" width="6" height="6" fill="rgb(40,40,40)"/><rect x="186" y="30" width="6" height="6" fill="rgb(43,43,43)"/><rect x="192" y="30" width="6" height="6" fill="rgb(50,50,50)"/><rect x="198" y="30" width="6" height="6" fill="rgb(57,57,57)"/><rect x="204" y="30" width="6" height="6" fill="rgb(64,64,64)"/><rect x="210" y="30" width="6" height="6" fill="rgb(71,71,71)"/><rect x="216" y="30" width="6" height="6" fill="rgb(84,84,84)"/><rect x="222" y="30" width="6" height="6" fill="rgb(98,98,98)"/><rect x="228" y="30" width="6" height="6" fill="rgb(113,113,113)"/><rect x="234" y="30" width="6" height="6" fill="rgb(118,118,118)"/><rect x="240" y="30" width="6" height="6" fill="rgb(118,118,118)"/><rect x="246" y="30" width="6" height="6" fill="rgb(118,118,118)"/><rect x="-18" y="36" width="6" height="6" fill="rgb(152,152,152)"/><rect x="-12" y="36" width="6" height="6" fill="rgb(152,152,152)"/><rect x="-6" y="36" width="6" height="6" fill="rgb(152,152,152)"/><rect x="0" y="36" width="6" height="6" fill="rgb(147,147,147)"/><rect x="6" y="36" width="6" height="6" fill="rgb(136,136,136)"/><rect x="12" y="36" width="6" height="6" fill="rgb(124,124,124)"/><rect x="18" y="36" width="6" height="6" fill="rgb(116,116,116)"/><rect x="24" y="36" width="6" height="6" fill="rgb(112,112,112)"/><rect x="30" y="36" width="6" height="6" fill="rgb(108,108,108)"/><rect x="36" y="36" width="6" height="6" fill="rgb(104,104,104)"/><rect x="42" y="36" width="6" height="6" fill="rgb(100,100,100)"/><rect x="48" y="36" width="6" height="6" fill="rgb(93,93,93)"/><rect x="54" y="36" width="6" height="6" fill="rgb(85,85,85)"/><rect x="60" y="36" width="6" height="6" fill="rgb(78,78,78)"/><rect x="66" y="36" width="6" height="6" fill="rgb(72,72,72)"/><rect x="72" y="36" width="6" height="6" fill="rgb(65,65,65)"/><rect x="78" y="36" width="6" height="6" fill="rgb(59,59,59)"/><rect x="84" y="36" width="6" height="6" fill="rgb(53,53,53)"/><rect x="90" y="36" width="6" height="6" fill="rgb(47,47,47)"/><rect x="96" y="36" width="6" height="6" fill="rgb(42,42,42)"/><rect x="102" y="36" width="6" height="6" fill="rgb(39,39,39)"/><rect x="108" y="36" width="6" height="6" fill="rgb(36,36,36)"/><rect x="114" y="36" width="6" height="6" fill="rgb(33,33,33)"/><rect x="120" y="36" width="6" height="6" fill="rgb(30,30,30)"/><rect x="126" y="36" width="6" height="6" fill="rgb(28,28,28)"/><rect x="132" y="36" width="6" height="6" fill="rgb(28,28,28)"/><rect x="138" y="36" width="6" height="6" fill="rgb(28,28,28)"/><rect x="144" y="36" width="6" height="6" fill="rgb(28,28,28)"/><rect x="150" y="36" width="6" height="6" fill="rgb(28,28,28)"/><rect x="156" y="36" width="6" height="6" fill="rgb(29,29,29)"/><rect x="162" y="36" width="6" height="6" fill="rgb(32,32,32)"/><rect x="168" y="36" width="6" height="6" fill="rgb(34,34,34)"/><rect x="174" y="36" width="6" height="6" fill="rgb(37,37,37)"/><rect x="180" y="36" width="6" height="6" fill="rgb(40,40,40)"/><rect x="186" y="36" width="6" height="6" fill="rgb(43,43,43)"/><rect x="192" y="36" width="6" height="6" fill="rgb(49,49,49)"/><rect x="198" y="36" width="6" height="6" fill="rgb(56,56,56)"/><rect x="204" y="36" width="6" height="6" fill="rgb(62,62,62)"/><rect x="210" y="36" width="6" height="6" fill="rgb(69,69,69)"/><rect x="216" y="36" width="6" height="6" fill="rgb(81,81,81)"/><rect x="222" y="36" width="6" height="6" fill="rgb(92,92,92)"/><rect x="228" y="36" width="6" height="6" fill="rgb(106,106,106)"/><rect x="234" y="36" width="6" height="6" fill="rgb(111,111,111)"/><rect x="240" y="36" width="6" height="6" fill="rgb(111,111,111)"/><rect x="246" y="36" width="6" height="6" fill="rgb(111,111,111)"/><rect x="-18" y="42" width="6" height="6" fill="rgb(151,151,151)"/><rect x="-12" y="42" width="6" height="6" fill="rgb(151,151,151)"/><rect x="-6" y="42" width="6" height="6" fill="rgb(151,151,151)"/><rect x="0" y="42" width="6" height="6" fill="rgb(146,146,146)"/><rect x="6" y="42" width="6" height="6" fill="rgb(135,135,135)"/><rect x="12" y="42" width="6" height="6" fill="rgb(123,123,123)"/><rect x="18" y="42" width="6" height="6" fill="rgb(115,115,115)"/><rect x="24" y="42" width="6" height="6" fill="rgb(111,111,111)"/><rect x="30" y="42" width="6" height="6" fill="rgb(107,107,107)"/><rect x="36" y="42" width="6" height="6" fill="rgb(103,103,103)"/><rect x="42" y="42" width="6" height="6" fill="rgb(98,98,98)"/><rect x="48" y="42" width="6" height="6" fill="rgb(91,91,91)"/><rect x="54" y="42" width="6" height="6" fill="rgb(84,84,84)"/><rect x="60" y="42" width="6" height="6" fill="rgb(77,77,77)"/><rect x="66" y="42" width="6" height="6" fill="rgb(70,70,70)"/><rect x="72" y="42" width="6" height="6" fill="rgb(64,64,64)"/><rect x="78" y="42" width="6" height="6" fill="rgb(58,58,58)"/><rect x="84" y="42" width="6" height="6" fill="rgb(52,52,52)"/><rect x="90" y="42" width="6" height="6" fill="rgb(45,45,45)"/><rect x="96" y="42" width="6" height="6" fill="rgb(40,40,40)"/><rect x="102" y="42" width="6" height="6" fill="rgb(37,37,37)"/><rect x="108" y="42" width="6" height="6" fill="rgb(35,35,35)"/><rect x="114" y="42" width="6" height="6" fill="rgb(32,32,32)"/><rect x="120" y="42" width="6" height="6" fill="rgb(29,29,29)"/><rect x="126" y="42" width="6" height="6" fill="rgb(27,27,27)"/><rect x="132" y="42" width="6" height="6" fill="rgb(28,28,28)"/><rect x="138" y="42" width="6" height="6" fill="rgb(28,28,28)"/><rect x="144" y="42" width="6" height="6" fill="rgb(28,28,28)"/><rect x="150" y="42" width="6" height="6" fill="rgb(29,29,29)"/><rect x="156" y="42" width="6" height="6" fill="rgb(30,30,30)"/><rect x="162" y="42" width="6" height="6" fill="rgb(32,32,32)"/><rect x="168" y="42" width="6" height="6" fill="rgb(35,35,35)"/><rect x="174" y="42" width="6" height="6" fill="rgb(38,38,38)"/><rect x="180" y="42" width="6" height="6" fill="rgb(41,41,41)"/><rect x="186" y="42" width="6" height="6" fill="rgb(44,44,44)"/><rect x="192" y="42" width="6" height="6" fill="rgb(50,50,50)"/><rect x="198" y="42" width="6" height="6" fill="rgb(56,56,56)"/><rect x="204" y="42" width="6" height="6" fill="rgb(63,63,63)"/><rect x="210" y="42" width="6" height="6" fill="rgb(69,69,69)"/><rect x="216" y="42" width="6" height="6" fill="rgb(79,79,79)"/><rect x="222" y="42" width="6" height="6" fill="rgb(89,89,89)"/><rect x="228" y="42" width="6" height="6" fill="rgb(102,102,102)"/><rect x="234" y="42" width="6" height="6" fill="rgb(107,107,107)"/><rect x="240" y="42" width="6" height="6" fill="rgb(107,107,107)"/><rect x="246" y="42" width="6" height="6" fill="rgb(107,107,107)"/><rect x="-18" y="48" width="6" height="6" fill="rgb(150,150,150)"/><rect x="-12" y="48" width="6" height="6" fill="rgb(150,150,150)"/><rect x="-6" y="48" width="6" height="6" fill="rgb(150,150,150)"/><rect x="0" y="48" width="6" height="6" fill="rgb(145,145,145)"/><rect x="6" y="48" width="6" height="6" fill="rgb(134,134,134)"/><rect x="12" y="48" width="6" height="6" fill="rgb(122,122,122)"/><rect x="18" y="48" width="6" height="6" fill="rgb(113,113,113)"/><rect x="24" y="48" width="6" height="6" fill="rgb(109,109,109)"/><rect x="30" y="48" width="6" height="6" fill="rgb(105,105,105)"/><rect x="36" y="48" width="6" height="6" fill="rgb(101,101,101)"/><rect x="42" y="48" width="6" height="6" fill="rgb(96,96,96)"/><rect x="48" y="48" width="6" height="6" fill="rgb(89,89,89)"/><rect x="54" y="48" width="6" height="6" fill="rgb(82,82,82)"/><rect x="60" y="48" width="6" height="6" fill="rgb(75,75,75)"/><rect x="66" y="48" width="6" height="6" fill="rgb(68,68,68)"/><rect x="72" y="48" width="6" height="6" fill="rgb(62,62,62)"/><rect x="78" y="48" width="6" height="6" fill="rgb(56,56,56)"/><rect x="84" y="48" width="6" height="6" fill="rgb(50,50,50)"/><rect x="90" y="48" width="6" height="6" fill="rgb(44,44,44)"/><rect x="96" y="48" width="6" height="6" fill="rgb(38,38,38)"/><rect x="102" y="48" width="6" height="6" fill="rgb(36,36,36)"/><rect x="108" y="48" width="6" height="6" fill="rgb(33,33,33)"/><rect x="114" y="48" width="6" height="6" fill="rgb(31,31,31)"/><rect x="120" y="48" width="6" height="6" fill="rgb(29,29,29)"/><rect x="126" y="48" width="6" height="6" fill="rgb(27,27,27)"/><rect x="132" y="48" width="6" height="6" fill="rgb(27,27,27)"/><rect x="138" y="48" width="6" height="6" fill="rgb(28,28,28)"/><rect x="144" y="48" width="6" height="6" fill="rgb(28,28,28)"/><rect x="150" y="48" width="6" height="6" fill="rgb(29,29,29)"/><rect x="156" y="48" width="6" height="6" fill="rgb(30,30,30)"/><rect x="162" y="48" width="6" height="6" fill="rgb(33,33,33)"/><rect x="168" y="48" width="6" height="6" fill="rgb(36,36,36)"/><rect x="174" y="48" width="6" height="6" fill="rgb(39,39,39)"/><rect x="180" y="48" width="6" height="6" fill="rgb(42,42,42)"/><rect x="186" y="48" width="6" height="6" fill="rgb(45,45,45)"/><rect x="192" y="48" width="6" height="6" fill="rgb(51,51,51)"/><rect x="198" y="48" width="6" height="6" fill="rgb(57,57,57)"/><rect x="204" y="48" width="6" height="6" fill="rgb(63,63,63)"/><rect x="210" y="48" width="6" height="6" fill="rgb(69,69,69)"/><rect x="216" y="48" width="6" height="6" fill="rgb(78,78,78)"/><rect x="222" y="48" width="6" height="6" fill="rgb(86,86,86)"/><rect x="228" y="48" width="6" height="6" fill="rgb(98,98,98)"/><rect x="234" y="48" width="6" height="6" fill="rgb(102,102,102)"/><rect x="240" y="48" width="6" height="6" fill="rgb(102,102,102)"/><rect x="246" y="48" width="6" height="6" fill="rgb(102,102,102)"/><rect x="-18" y="54" width="6" height="6" fill="rgb(149,149,149)"/><rect x="-12" y="54" width="6" height="6" fill="rgb(149,149,149)"/><rect x="-6" y="54" width="6" height="6" fill="rgb(149,149,149)"/><rect x="0" y="54" width="6" height="6" fill="rgb(144,144,144)"/><rect x="6" y="54" width="6" height="6" fill="rgb(133,133,133)"/><rect x="12" y="54" width="6" height="6" fill="rgb(121,121,121)"/><rect x="18" y="54" width="6" height="6" fill="rgb(112,112,112)"/><rect x="24" y="54" width="6" height="6" fill="rgb(108,108,108)"/><rect x="30" y="54" width="6" height="6" fill="rgb(104,104,104)"/><rect x="36" y="54" width="6" height="6" fill="rgb(100,100,100)"/><rect x="42" y="54" width="6" height="6" fill="rgb(95,95,95)"/><rect x="48" y="54" width="6" height="6" fill="rgb(88,88,88)"/><rect x="54" y="54" width="6" height="6" fill="rgb(81,81,81)"/><rect x="60" y="54" width="6" height="6" fill="rgb(74,74,74)"/><rect x="66" y="54" width="6" height="6" fill="rgb(67,67,67)"/><rect x="72" y="54" width="6" height="6" fill="rgb(61,61,61)"/><rect x="78" y="54" width="6" height="6" fill="rgb(54,54,54)"/><rect x="84" y="54" width="6" height="6" fill="rgb(48,48,48)"/><rect x="90" y="54" width="6" height="6" fill="rgb(42,42,42)"/><rect x="96" y="54" width="6" height="6" fill="rgb(37,37,37)"/><rect x="102" y="54" width="6" height="6" fill="rgb(34,34,34)"/><rect x="108" y="54" width="6" height="6" fill="rgb(32,32,32)"/><rect x="114" y="54" width="6" height="6" fill="rgb(30,30,30)"/><rect x="120" y="54" width="6" height="6" fill="rgb(28,28,28)"/><rect x="126" y="54" width="6" height="6" fill="rgb(26,26,26)"/><rect x="132" y="54" width="6" height="6" fill="rgb(27,27,27)"/><rect x="138" y="54" width="6" height="6" fill="rgb(28,28,28)"/><rect x="144" y="54" width="6" height="6" fill="rgb(29,29,29)"/><rect x="150" y="54" width="6" height="6" fill="rgb(29,29,29)"/><rect x="156" y="54" width="6" height="6" fill="rgb(31,31,31)"/><rect x="162" y="54" width="6" height="6" fill="rgb(34,34,34)"/><rect x="168" y="54" width="6" height="6" fill="rgb(37,37,37)"/><rect x="174" y="54" width="6" height="6" fill="rgb(40,40,40)"/><rect x="180" y="54" width="6" height="6" fill="rgb(43,43,43)"/><rect x="186" y="54" width="6" height="6" fill="rgb(46,46,46)"/><rect x="192" y="54" width="6" height="6" fill="rgb(52,52,52)"/><rect x="198" y="54" width="6" height="6" fill="rgb(57,57,57)"/><rect x="204" y="54" width="6" height="6" fill="rgb(63,63,63)"/><rect x="210" y="54" width="6" height="6" fill="rgb(69,69,69)"/><rect x="216" y="54" width="6" height="6" fill="rgb(76,76,76)"/><rect x="222" y="54" width="6" height="6" fill="rgb(83,83,83)"/><rect x="228" y="54" width="6" height="6" fill="rgb(94,94,94)"/><rect x="234" y="54" width="6" height="6" fill="rgb(98,98,98)"/><rect x="240" y="54" width="6" height="6" fill="rgb(98,98,98)"/><rect x="246" y="54" width="6" height="6" fill="rgb(98,98,98)"/><rect x="-18" y="60" width="6" height="6" fill="rgb(148,148,148)"/><rect x="-12" y="60" width="6" height="6" fill="rgb(148,148,148)"/><rect x="-6" y="60" width="6" height="6" fill="rgb(148,148,148)"/><rect x="0" y="60" width="6" height="6" fill="rgb(143,143,143)"/><rect x="6" y="60" width="6" height="6" fill="rgb(132,132,132)"/><rect x="12" y="60" width="6" height="6" fill="rgb(119,119,119)"/><rect x="18" y="60" width="6" height="6" fill="rgb(111,111,111)"/><rect x="24" y="60" width="6" height="6" fill="rgb(106,106,106)"/><rect x="30" y="60" width="6" height="6" fill="rgb(102,102,102)"/><rect x="36" y="60" width="6" height="6" fill="rgb(98,98,98)"/><rect x="42" y="60" width="6" height="6" fill="rgb(93,93,93)"/><rect x="48" y="60" width="6" height="6" fill="rgb(86,86,86)"/><rect x="54" y="60" width="6" height="6" fill="rgb(79,79,79)"/><rect x="60" y="60" width="6" height="6" fill="rgb(72,72,72)"/><rect x="66" y="60" width="6" height="6" fill="rgb(65,65,65)"/><rect x="72" y="60" width="6" height="6" fill="rgb(59,59,59)"/><rect x="78" y="60" width="6" height="6" fill="rgb(53,53,53)"/><rect x="84" y="60" width="6" height="6" fill="rgb(47,47,47)"/><rect x="90" y="60" width="6" height="6" fill="rgb(41,41,41)"/><rect x="96" y="60" width="6" height="6" fill="rgb(35,35,35)"/><rect x="102" y="60" width="6" height="6" fill="rgb(33,33,33)"/><rect x="108" y="60" width="6" height="6" fill="rgb(31,31,31)"/><rect x="114" y="60" width="6" height="6" fill="rgb(29,29,29)"/><rect x="120" y="60" width="6" height="6" fill="rgb(27,27,27)"/><rect x="126" y="60" width="6" height="6" fill="rgb(26,26,26)"/><rect x="132" y="60" width="6" height="6" fill="rgb(27,27,27)"/><rect x="138" y="60" width="6" height="6" fill="rgb(28,28,28)"/><rect x="144" y="60" width="6" height="6" fill="rgb(29,29,29)"/><rect x="150" y="60" width="6" height="6" fill="rgb(30,30,30)"/><rect x="156" y="60" width="6" height="6" fill="rgb(31,31,31)"/><rect x="162" y="60" width="6" height="6" fill="rgb(34,34,34)"/><rect x="168" y="60" width="6" height="6" fill="rgb(37,37,37)"/><rect x="174" y="60" width="6" height="6" fill="rgb(41,41,41)"/><rect x="180" y="60" width="6" height="6" fill="rgb(44,44,44)"/><rect x="186" y="60" width="6" height="6" fill="rgb(47,47,47)"/><rect x="192" y="60" width="6" height="6" fill="rgb(52,52,52)"/><rect x="198" y="60" width="6" height="6" fill="rgb(58,58,58)"/><rect x="204" y="60" width="6" height="6" fill="rgb(63,63,63)"/><rect x="210" y="60" width="6" height="6" fill="rgb(69,69,69)"/><rect x="216" y="60" width="6" height="6" fill="rgb(75,75,75)"/><rect x="222" y="60" width="6" height="6" fill="rgb(80,80,80)"/><rect x="228" y="60" width="6" height="6" fill="rgb(91,91,91)"/><rect x="234" y="60" width="6" height="6" fill="rgb(94,94,94)"/><rect x="240" y="60" width="6" height="6" fill="rgb(94,94,94)"/><rect x="246" y="60" width="6" height="6" fill="rgb(94,94,94)"/><rect x="-18" y="66" width="6" height="6" fill="rgb(147,147,147)"/><rect x="-12" y="66" width="6" height="6" fill="rgb(147,147,147)"/><rect x="-6" y="66" width="6" height="6" fill="rgb(147,147,147)"/><rect x="0" y="66" width="6" height="6" fill="rgb(141,141,141)"/><rect x="6" y="66" width="6" height="6" fill="rgb(129,129,129)"/><rect x="12" y="66" width="6" height="6" fill="rgb(116,116,116)"/><rect x="18" y="66" width="6" height="6" fill="rgb(107,107,107)"/><rect x="24" y="66" width="6" height="6" fill="rgb(103,103,103)"/><rect x="30" y="66" width="6" height="6" fill="rgb(98,98,98)"/><rect x="36" y="66" width="6" height="6" fill="rgb(94,94,94)"/><rect x="42" y="66" width="6" height="6" fill="rgb(89,89,89)"/><rect x="48" y="66" width="6" height="6" fill="rgb(82,82,82)"/><rect x="54" y="66" width="6" height="6" fill="rgb(76,76,76)"/><rect x="60" y="66" width="6" height="6" fill="rgb(69,69,69)"/><rect x="66" y="66" width="6" height="6" fill="rgb(63,63,63)"/><rect x="72" y="66" width="6" height="6" fill="rgb(57,57,57)"/><rect x="78" y="66" width="6" height="6" fill="rgb(51,51,51)"/><rect x="84" y="66" width="6" height="6" fill="rgb(46,46,46)"/><rect x="90" y="66" width="6" height="6" fill="rgb(40,40,40)"/><rect x="96" y="66" width="6" height="6" fill="rgb(35,35,35)"/><rect x="102" y="66" width="6" height="6" fill="rgb(33,33,33)"/><rect x="108" y="66" width="6" height="6" fill="rgb(31,31,31)"/><rect x="114" y="66" width="6" height="6" fill="rgb(29,29,29)"/><rect x="120" y="66" width="6" height="6" fill="rgb(28,28,28)"/><rect x="126" y="66" width="6" height="6" fill="rgb(26,26,26)"/><rect x="132" y="66" width="6" height="6" fill="rgb(27,27,27)"/><rect x="138" y="66" width="6" height="6" fill="rgb(29,29,29)"/><rect x="144" y="66" width="6" height="6" fill="rgb(30,30,30)"/><rect x="150" y="66" width="6" height="6" fill="rgb(31,31,31)"/><rect x="156" y="66" width="6" height="6" fill="rgb(32,32,32)"/><rect x="162" y="66" width="6" height="6" fill="rgb(36,36,36)"/><rect x="168" y="66" width="6" height="6" fill="rgb(39,39,39)"/><rect x="174" y="66" width="6" height="6" fill="rgb(42,42,42)"/><rect x="180" y="66" width="6" height="6" fill="rgb(45,45,45)"/><rect x="186" y="66" width="6" height="6" fill="rgb(49,49,49)"/><rect x="192" y="66" width="6" height="6" fill="rgb(54,54,54)"/><rect x="198" y="66" width="6" height="6" fill="rgb(58,58,58)"/><rect x="204" y="66" width="6" height="6" fill="rgb(63,63,63)"/><rect x="210" y="66" width="6" height="6" fill="rgb(68,68,68)"/><rect x="216" y="66" width="6" height="6" fill="rgb(74,74,74)"/><rect x="222" y="66" width="6" height="6" fill="rgb(79,79,79)"/><rect x="228" y="66" width="6" height="6" fill="rgb(89,89,89)"/><rect x="234" y="66" width="6" height="6" fill="rgb(93,93,93)"/><rect x="240" y="66" width="6" height="6" fill="rgb(93,93,93)"/><rect x="246" y="66" width="6" height="6" fill="rgb(93,93,93)"/><rect x="-18" y="72" width="6" height="6" fill="rgb(146,146,146)"/><rect x="-12" y="72" width="6" height="6" fill="rgb(146,146,146)"/><rect x="-6" y="72" width="6" height="6" fill="rgb(146,146,146)"/><rect x="0" y="72" width="6" height="6" fill="rgb(140,140,140)"/><rect x="6" y="72" width="6" height="6" fill="rgb(126,126,126)"/><rect x="12" y="72" width="6" height="6" fill="rgb(112,112,112)"/><rect x="18" y="72" width="6" height="6" fill="rgb(103,103,103)"/><rect x="24" y="72" width="6" height="6" fill="rgb(99,99,99)"/><rect x="30" y="72" width="6" height="6" fill="rgb(94,94,94)"/><rect x="36" y="72" width="6" height="6" fill="rgb(90,90,90)"/><rect x="42" y="72" width="6" height="6" fill="rgb(85,85,85)"/><rect x="48" y="72" width="6" height="6" fill="rgb(79,79,79)"/><rect x="54" y="72" width="6" height="6" fill="rgb(73,73,73)"/><rect x="60" y="72" width="6" height="6" fill="rgb(67,67,67)"/><rect x="66" y="72" width="6" height="6" fill="rgb(61,61,61)"/><rect x="72" y="72" width="6" height="6" fill="rgb(55,55,55)"/><rect x="78" y="72" width="6" height="6" fill="rgb(50,50,50)"/><rect x="84" y="72" width="6" height="6" fill="rgb(44,44,44)"/><rect x="90" y="72" width="6" height="6" fill="rgb(39,39,39)"/><rect x="96" y="72" width="6" height="6" fill="rgb(34,34,34)"/><rect x="102" y="72" width="6" height="6" fill="rgb(33,33,33)"/><rect x="108" y="72" width="6" height="6" fill="rgb(31,31,31)"/><rect x="114" y="72" width="6" height="6" fill="rgb(30,30,30)"/><rect x="120" y="72" width="6" height="6" fill="rgb(28,28,28)"/><rect x="126" y="72" width="6" height="6" fill="rgb(27,27,27)"/><rect x="132" y="72" width="6" height="6" fill="rgb(28,28,28)"/><rect x="138" y="72" width="6" height="6" fill="rgb(29,29,29)"/><rect x="144" y="72" width="6" height="6" fill="rgb(31,31,31)"/><rect x="150" y="72" width="6" height="6" fill="rgb(32,32,32)"/><rect x="156" y="72" width="6" height="6" fill="rgb(34,34,34)"/><rect x="162" y="72" width="6" height="6" fill="rgb(37,37,37)"/><rect x="168" y="72" width="6" height="6" fill="rgb(40,40,40)"/><rect x="174" y="72" width="6" height="6" fill="rgb(43,43,43)"/><rect x="180" y="72" width="6" height="6" fill="rgb(47,47,47)"/><rect x="186" y="72" width="6" height="6" fill="rgb(50,50,50)"/><rect x="192" y="72" width="6" height="6" fill="rgb(55,55,55)"/><rect x="198" y="72" width="6" height="6" fill="rgb(59,59,59)"/><rect x="204" y="72" width="6" height="6" fill="rgb(63,63,63)"/><rect x="210" y="72" width="6" height="6" fill="rgb(68,68,68)"/><rect x="216" y="72" width="6" height="6" fill="rgb(73,73,73)"/><rect x="222" y="72" width="6" height="6" fill="rgb(78,78,78)"/><rect x="228" y="72" width="6" height="6" fill="rgb(88,88,88)"/><rect x="234" y="72" width="6" height="6" fill="rgb(92,92,92)"/><rect x="240" y="72" width="6" height="6" fill="rgb(92,92,92)"/><rect x="246" y="72" width="6" height="6" fill="rgb(92,92,92)"/><rect x="-18" y="78" width="6" height="6" fill="rgb(144,144,144)"/><rect x="-12" y="78" width="6" height="6" fill="rgb(144,144,144)"/><rect x="-6" y="78" width="6" height="6" fill="rgb(144,144,144)"/><rect x="0" y="78" width="6" height="6" fill="rgb(138,138,138)"/><rect x="6" y="78" width="6" height="6" fill="rgb(123,123,123)"/><rect x="12" y="78" width="6" height="6" fill="rgb(109,109,109)"/><rect x="18" y="78" width="6" height="6" fill="rgb(99,99,99)"/><rect x="24" y="78" width="6" height="6" fill="rgb(95,95,95)"/><rect x="30" y="78" width="6" height="6" fill="rgb(91,91,91)"/><rect x="36" y="78" width="6" height="6" fill="rgb(86,86,86)"/><rect x="42" y="78" width="6" height="6" fill="rgb(82,82,82)"/><rect x="48" y="78" width="6" height="6" fill="rgb(76,76,76)"/><rect x="54" y="78" width="6" height="6" fill="rgb(70,70,70)"/><rect x="60" y="78" width="6" height="6" fill="rgb(64,64,64)"/><rect x="66" y="78" width="6" height="6" fill="rgb(59,59,59)"/><rect x="72" y="78" width="6" height="6" fill="rgb(53,53,53)"/><rect x="78" y="78" width="6" height="6" fill="rgb(48,48,48)"/><rect x="84" y="78" width="6" height="6" fill="rgb(43,43,43)"/><rect x="90" y="78" width="6" height="6" fill="rgb(38,38,38)"/><rect x="96" y="78" width="6" height="6" fill="rgb(34,34,34)"/><rect x="102" y="78" width="6" height="6" fill="rgb(32,32,32)"/><rect x="108" y="78" width="6" height="6" fill="rgb(31,31,31)"/><rect x="114" y="78" width="6" height="6" fill="rgb(30,30,30)"/><rect x="120" y="78" width="6" height="6" fill="rgb(28,28,28)"/><rect x="126" y="78" width="6" height="6" fill="rgb(27,27,27)"/><rect x="132" y="78" width="6" height="6" fill="rgb(29,29,29)"/><rect x="138" y="78" width="6" height="6" fill="rgb(30,30,30)"/><rect x="144" y="78" width="6" height="6" fill="rgb(32,32,32)"/><rect x="150" y="78" width="6" height="6" fill="rgb(33,33,33)"/><rect x="156" y="78" width="6" height="6" fill="rgb(35,35,35)"/><rect x="162" y="78" width="6" height="6" fill="rgb(38,38,38)"/><rect x="168" y="78" width="6" height="6" fill="rgb(41,41,41)"/><rect x="174" y="78" width="6" height="6" fill="rgb(45,45,45)"/><rect x="180" y="78" width="6" height="6" fill="rgb(48,48,48)"/><rect x="186" y="78" width="6" height="6" fill="rgb(52,52,52)"/><rect x="192" y="78" width="6" height="6" fill="rgb(56,56,56)"/><rect x="198" y="78" width="6" height="6" fill="rgb(59,59,59)"/><rect x="204" y="78" width="6" height="6" fill="rgb(63,63,63)"/><rect x="210" y="78" width="6" height="6" fill="rgb(67,67,67)"/><rect x="216" y="78" width="6" height="6" fill="rgb(72,72,72)"/><rect x="222" y="78" width="6" height="6" fill="rgb(77,77,77)"/><rect x="228" y="78" width="6" height="6" fill="rgb(87,87,87)"/><rect x="234" y="78" width="6" height="6" fill="rgb(91,91,91)"/><rect x="240" y="78" width="6" height="6" fill="rgb(91,91,91)"/><rect x="246" y="78" width="6" height="6" fill="rgb(91,91,91)"/><rect x="-18" y="84" width="6" height="6" fill="rgb(143,143,143)"/><rect x="-12" y="84" width="6" height="6" fill="rgb(143,143,143)"/><rect x="-6" y="84" width="6" height="6" fill="rgb(143,143,143)"/><rect x="0" y="84" width="6" height="6" fill="rgb(136,136,136)"/><rect x="6" y="84" width="6" height="6" fill="rgb(121,121,121)"/><rect x="12" y="84" width="6" height="6" fill="rgb(105,105,105)"/><rect x="18" y="84" width="6" height="6" fill="rgb(95,95,95)"/><rect x="24" y="84" width="6" height="6" fill="rgb(91,91,91)"/><rect x="30" y="84" width="6" height="6" fill="rgb(87,87,87)"/><rect x="36" y="84" width="6" height="6" fill="rgb(83,83,83)"/><rect x="42" y="84" width="6" height="6" fill="rgb(78,78,78)"/><rect x="48" y="84" width="6" height="6" fill="rgb(72,72,72)"/><rect x="54" y="84" width="6" height="6" fill="rgb(67,67,67)"/><rect x="60" y="84" width="6" height="6" fill="rgb(62,62,62)"/><rect x="66" y="84" width="6" height="6" fill="rgb(56,56,56)"/><rect x="72" y="84" width="6" height="6" fill="rgb(52,52,52)"/><rect x="78" y="84" width="6" height="6" fill="rgb(47,47,47)"/><rect x="84" y="84" width="6" height="6" fill="rgb(42,42,42)"/><rect x="90" y="84" width="6" height="6" fill="rgb(37,37,37)"/><rect x="96" y="84" width="6" height="6" fill="rgb(33,33,33)"/><rect x="102" y="84" width="6" height="6" fill="rgb(32,32,32)"/><rect x="108" y="84" width="6" height="6" fill="rgb(31,31,31)"/><rect x="114" y="84" width="6" height="6" fill="rgb(30,30,30)"/><rect x="120" y="84" width="6" height="6" fill="rgb(29,29,29)"/><rect x="126" y="84" width="6" height="6" fill="rgb(28,28,28)"/><rect x="132" y="84" width="6" height="6" fill="rgb(29,29,29)"/><rect x="138" y="84" width="6" height="6" fill="rgb(31,31,31)"/><rect x="144" y="84" width="6" height="6" fill="rgb(32,32,32)"/><rect x="150" y="84" width="6" height="6" fill="rgb(34,34,34)"/><rect x="156" y="84" width="6" height="6" fill="rgb(36,36,36)"/><rect x="162" y="84" width="6" height="6" fill="rgb(39,39,39)"/><rect x="168" y="84" width="6" height="6" fill="rgb(43,43,43)"/><rect x="174" y="84" width="6" height="6" fill="rgb(46,46,46)"/><rect x="180" y="84" width="6" height="6" fill="rgb(50,50,50)"/><rect x="186" y="84" width="6" height="6" fill="rgb(53,53,53)"/><rect x="192" y="84" width="6" height="6" fill="rgb(57,57,57)"/><rect x="198" y="84" width="6" height="6" fill="rgb(60,60,60)"/><rect x="204" y="84" width="6" height="6" fill="rgb(63,63,63)"/><rect x="210" y="84" width="6" height="6" fill="rgb(67,67,67)"/><rect x="216" y="84" width="6" height="6" fill="rgb(71,71,71)"/><rect x="222" y="84" width="6" height="6" fill="rgb(76,76,76)"/><rect x="228" y="84" width="6" height="6" fill="rgb(86,86,86)"/><rect x="234" y="84" width="6" height="6" fill="rgb(90,90,90)"/><rect x="240" y="84" width="6" height="6" fill="rgb(90,90,90)"/><rect x="246" y="84" width="6" height="6" fill="rgb(90,90,90)"/><rect x="-18" y="90" width="6" height="6" fill="rgb(142,142,142)"/><rect x="-12" y="90" width="6" height="6" fill="rgb(142,142,142)"/><rect x="-6" y="90" width="6" height="6" fill="rgb(142,142,142)"/><rect x="0" y="90" width="6" height="6" fill="rgb(134,134,134)"/><rect x="6" y="90" width="6" height="6" fill="rgb(119,119,119)"/><rect x="12" y="90" width="6" height="6" fill="rgb(103,103,103)"/><rect x="18" y="90" width="6" height="6" fill="rgb(93,93,93)"/><rect x="24" y="90" width="6" height="6" fill="rgb(89,89,89)"/><rect x="30" y="90" width="6" height="6" fill="rgb(85,85,85)"/><rect x="36" y="90" width="6" height="6" fill="rgb(80,80,80)"/><rect x="42" y="90" width="6" height="6" fill="rgb(76,76,76)"/><rect x="48" y="90" width="6" height="6" fill="rgb(71,71,71)"/><rect x="54" y="90" width="6" height="6" fill="rgb(66,66,66)"/><rect x="60" y="90" width="6" height="6" fill="rgb(61,61,61)"/><rect x="66" y="90" width="6" height="6" fill="rgb(56,56,56)"/><rect x="72" y="90" width="6" height="6" fill="rgb(52,52,52)"/><rect x="78" y="90" width="6" height="6" fill="rgb(47,47,47)"/><rect x="84" y="90" width="6" height="6" fill="rgb(43,43,43)"/><rect x="90" y="90" width="6" height="6" fill="rgb(38,38,38)"/><rect x="96" y="90" width="6" height="6" fill="rgb(34,34,34)"/><rect x="102" y="90" width="6" height="6" fill="rgb(33,33,33)"/><rect x="108" y="90" width="6" height="6" fill="rgb(32,32,32)"/><rect x="114" y="90" width="6" height="6" fill="rgb(32,32,32)"/><rect x="120" y="90" width="6" height="6" fill="rgb(31,31,31)"/><rect x="126" y="90" width="6" height="6" fill="rgb(30,30,30)"/><rect x="132" y="90" width="6" height="6" fill="rgb(31,31,31)"/><rect x="138" y="90" width="6" height="6" fill="rgb(33,33,33)"/><rect x="144" y="90" width="6" height="6" fill="rgb(34,34,34)"/><rect x="150" y="90" width="6" height="6" fill="rgb(36,36,36)"/><rect x="156" y="90" width="6" height="6" fill="rgb(38,38,38)"/><rect x="162" y="90" width="6" height="6" fill="rgb(41,41,41)"/><rect x="168" y="90" width="6" height="6" fill="rgb(44,44,44)"/><rect x="174" y="90" width="6" height="6" fill="rgb(48,48,48)"/><rect x="180" y="90" width="6" height="6" fill="rgb(51,51,51)"/><rect x="186" y="90" width="6" height="6" fill="rgb(55,55,55)"/><rect x="192" y="90" width="6" height="6" fill="rgb(58,58,58)"/><rect x="198" y="90" width="6" height="6" fill="rgb(61,61,61)"/><rect x="204" y="90" width="6" height="6" fill="rgb(64,64,64)"/><rect x="210" y="90" width="6" height="6" fill="rgb(67,67,67)"/><rect x="216" y="90" width="6" height="6" fill="rgb(72,72,72)"/><rect x="222" y="90" width="6" height="6" fill="rgb(77,77,77)"/><rect x="228" y="90" width="6" height="6" fill="rgb(87,87,87)"/><rect x="234" y="90" width="6" height="6" fill="rgb(91,91,91)"/><rect x="240" y="90" width="6" height="6" fill="rgb(91,91,91)"/><rect x="246" y="90" width="6" height="6" fill="rgb(91,91,91)"/><rect x="-18" y="96" width="6" height="6" fill="rgb(141,141,141)"/><rect x="-12" y="96" width="6" height="6" fill="rgb(141,141,141)"/><rect x="-6" y="96" width="6" height="6" fill="rgb(141,141,141)"/><rect x="0" y="96" width="6" height="6" fill="rgb(133,133,133)"/><rect x="6" y="96" width="6" height="6" fill="rgb(117,117,117)"/><rect x="12" y="96" width="6" height="6" fill="rgb(102,102,102)"/><rect x="18" y="96" width="6" height="6" fill="rgb(92,92,92)"/><rect x="24" y="96" width="6" height="6" fill="rgb(88,88,88)"/><rect x="30" y="96" width="6" height="6" fill="rgb(84,84,84)"/><rect x="36" y="96" width="6" height="6" fill="rgb(80,80,80)"/><rect x="42" y="96" width="6" height="6" fill="rgb(75,75,75)"/><rect x="48" y="96" width="6" height="6" fill="rgb(71,71,71)"/><rect x="54" y="96" width="6" height="6" fill="rgb(66,66,66)"/><rect x="60" y="96" width="6" height="6" fill="rgb(62,62,62)"/><rect x="66" y="96" width="6" height="6" fill="rgb(57,57,57)"/><rect x="72" y="96" width="6" height="6" fill="rgb(53,53,53)"/><rect x="78" y="96" width="6" height="6" fill="rgb(49,49,49)"/><rect x="84" y="96" width="6" height="6" fill="rgb(45,45,45)"/><rect x="90" y="96" width="6" height="6" fill="rgb(41,41,41)"/><rect x="96" y="96" width="6" height="6" fill="rgb(37,37,37)"/><rect x="102" y="96" width="6" height="6" fill="rgb(36,36,36)"/><rect x="108" y="96" width="6" height="6" fill="rgb(36,36,36)"/><rect x="114" y="96" width="6" height="6" fill="rgb(35,35,35)"/><rect x="120" y="96" width="6" height="6" fill="rgb(34,34,34)"/><rect x="126" y="96" width="6" height="6" fill="rgb(33,33,33)"/><rect x="132" y="96" width="6" height="6" fill="rgb(35,35,35)"/><rect x="138" y="96" width="6" height="6" fill="rgb(36,36,36)"/><rect x="144" y="96" width="6" height="6" fill="rgb(37,37,37)"/><rect x="150" y="96" width="6" height="6" fill="rgb(39,39,39)"/><rect x="156" y="96" width="6" height="6" fill="rgb(40,40,40)"/><rect x="162" y="96" width="6" height="6" fill="rgb(44,44,44)"/><rect x="168" y="96" width="6" height="6" fill="rgb(47,47,47)"/><rect x="174" y="96" width="6" height="6" fill="rgb(50,50,50)"/><rect x="180" y="96" width="6" height="6" fill="rgb(53,53,53)"/><rect x="186" y="96" width="6" height="6" fill="rgb(56,56,56)"/><rect x="192" y="96" width="6" height="6" fill="rgb(59,59,59)"/><rect x="198" y="96" width="6" height="6" fill="rgb(61,61,61)"/><rect x="204" y="96" width="6" height="6" fill="rgb(64,64,64)"/><rect x="210" y="96" width="6" height="6" fill="rgb(67,67,67)"/><rect x="216" y="96" width="6" height="6" fill="rgb(73,73,73)"/><rect x="222" y="96" width="6" height="6" fill="rgb(78,78,78)"/><rect x="228" y="96" width="6" height="6" fill="rgb(89,89,89)"/><rect x="234" y="96" width="6" height="6" fill="rgb(94,94,94)"/><rect x="240" y="96" width="6" height="6" fill="rgb(94,94,94)"/><rect x="246" y="96" width="6" height="6" fill="rgb(94,94,94)"/><rect x="-18" y="102" width="6" height="6" fill="rgb(140,140,140)"/><rect x="-12" y="102" width="6" height="6" fill="rgb(140,140,140)"/><rect x="-6" y="102" width="6" height="6" fill="rgb(140,140,140)"/><rect x="0" y="102" width="6" height="6" fill="rgb(131,131,131)"/><rect x="6" y="102" width="6" height="6" fill="rgb(116,116,116)"/><rect x="12" y="102" width="6" height="6" fill="rgb(100,100,100)"/><rect x="18" y="102" width="6" height="6" fill="rgb(91,91,91)"/><rect x="24" y="102" width="6" height="6" fill="rgb(87,87,87)"/><rect x="30" y="102" width="6" height="6" fill="rgb(83,83,83)"/><rect x="36" y="102" width="6" height="6" fill="rgb(79,79,79)"/><rect x="42" y="102" width="6" height="6" fill="rgb(75,75,75)"/><rect x="48" y="102" width="6" height="6" fill="rgb(71,71,71)"/><rect x="54" y="102" width="6" height="6" fill="rgb(67,67,67)"/><rect x="60" y="102" width="6" height="6" fill="rgb(62,62,62)"/><rect x="66" y="102" width="6" height="6" fill="rgb(58,58,58)"/><rect x="72" y="102" width="6" height="6" fill="rgb(55,55,55)"/><rect x="78" y="102" width="6" height="6" fill="rgb(51,51,51)"/><rect x="84" y="102" width="6" height="6" fill="rgb(47,47,47)"/><rect x="90" y="102" width="6" height="6" fill="rgb(43,43,43)"/><rect x="96" y="102" width="6" height="6" fill="rgb(40,40,40)"/><rect x="102" y="102" width="6" height="6" fill="rgb(39,39,39)"/><rect x="108" y="102" width="6" height="6" fill="rgb(39,39,39)"/><rect x="114" y="102" width="6" height="6" fill="rgb(38,38,38)"/><rect x="120" y="102" width="6" height="6" fill="rgb(37,37,37)"/><rect x="126" y="102" width="6" height="6" fill="rgb(37,37,37)"/><rect x="132" y="102" width="6" height="6" fill="rgb(38,38,38)"/><rect x="138" y="102" width="6" height="6" fill="rgb(39,39,39)"/><rect x="144" y="102" width="6" height="6" fill="rgb(40,40,40)"/><rect x="150" y="102" width="6" height="6" fill="rgb(42,42,42)"/><rect x="156" y="102" width="6" height="6" fill="rgb(43,43,43)"/><rect x="162" y="102" width="6" height="6" fill="rgb(46,46,46)"/><rect x="168" y="102" width="6" height="6" fill="rgb(49,49,49)"/><rect x="174" y="102" width="6" height="6" fill="rgb(51,51,51)"/><rect x="180" y="102" width="6" height="6" fill="rgb(54,54,54)"/><rect x="186" y="102" width="6" height="6" fill="rgb(57,57,57)"/><rect x="192" y="102" width="6" height="6" fill="rgb(60,60,60)"/><rect x="198" y="102" width="6" height="6" fill="rgb(62,62,62)"/><rect x="204" y="102" width="6" height="6" fill="rgb(65,65,65)"/><rect x="210" y="102" width="6" height="6" fill="rgb(68,68,68)"/><rect x="216" y="102" width="6" height="6" fill="rgb(74,74,74)"/><rect x="222" y="102" width="6" height="6" fill="rgb(80,80,80)"/><rect x="228" y="102" width="6" height="6" fill="rgb(92,92,92)"/><rect x="234" y="102" width="6" height="6" fill="rgb(96,96,96)"/><rect x="240" y="102" width="6" height="6" fill="rgb(96,96,96)"/><rect x="246" y="102" width="6" height="6" fill="rgb(96,96,96)"/><rect x="-18" y="108" width="6" height="6" fill="rgb(139,139,139)"/><rect x="-12" y="108" width="6" height="6" fill="rgb(139,139,139)"/><rect x="-6" y="108" width="6" height="6" fill="rgb(139,139,139)"/><rect x="0" y="108" width="6" height="6" fill="rgb(130,130,130)"/><rect x="6" y="108" width="6" height="6" fill="rgb(114,114,114)"/><rect x="12" y="108" width="6" height="6" fill="rgb(99,99,99)"/><rect x="18" y="108" width="6" height="6" fill="rgb(90,90,90)"/><rect x="24" y="108" width="6" height="6" fill="rgb(86,86,86)"/><rect x="30" y="108" width="6" height="6" fill="rgb(82,82,82)"/><rect x="36" y="108" width="6" height="6" fill="rgb(78,78,78)"/><rect x="42" y="108" width="6" height="6" fill="rgb(75,75,75)"/><rect x="48" y="108" width="6" height="6" fill="rgb(71,71,71)"/><rect x="54" y="108" width="6" height="6" fill="rgb(67,67,67)"/><rect x="60" y="108" width="6" height="6" fill="rgb(63,63,63)"/><rect x="66" y="108" width="6" height="6" fill="rgb(60,60,60)"/><rect x="72" y="108" width="6" height="6" fill="rgb(56,56,56)"/><rect x="78" y="108" width="6" height="6" fill="rgb(53,53,53)"/><rect x="84" y="108" width="6" height="6" fill="rgb(49,49,49)"/><rect x="90" y="108" width="6" height="6" fill="rgb(46,46,46)"/><rect x="96" y="108" width="6" height="6" fill="rgb(43,43,43)"/><rect x="102" y="108" width="6" height="6" fill="rgb(42,42,42)"/><rect x="108" y="108" width="6" height="6" fill="rgb(42,42,42)"/><rect x="114" y="108" width="6" height="6" fill="rgb(41,41,41)"/><rect x="120" y="108" width="6" height="6" fill="rgb(40,40,40)"/><rect x="126" y="108" width="6" height="6" fill="rgb(40,40,40)"/><rect x="132" y="108" width="6" height="6" fill="rgb(41,41,41)"/><rect x="138" y="108" width="6" height="6" fill="rgb(42,42,42)"/><rect x="144" y="108" width="6" height="6" fill="rgb(44,44,44)"/><rect x="150" y="108" width="6" height="6" fill="rgb(45,45,45)"/><rect x="156" y="108" width="6" height="6" fill="rgb(46,46,46)"/><rect x="162" y="108" width="6" height="6" fill="rgb(48,48,48)"/><rect x="168" y="108" width="6" height="6" fill="rgb(51,51,51)"/><rect x="174" y="108" width="6" height="6" fill="rgb(53,53,53)"/><rect x="180" y="108" width="6" height="6" fill="rgb(56,56,56)"/><rect x="186" y="108" width="6" height="6" fill="rgb(58,58,58)"/><rect x="192" y="108" width="6" height="6" fill="rgb(61,61,61)"/><rect x="198" y="108" width="6" height="6" fill="rgb(63,63,63)"/><rect x="204" y="108" width="6" height="6" fill="rgb(66,66,66)"/><rect x="210" y="108" width="6" height="6" fill="rgb(68,68,68)"/><rect x="216" y="108" width="6" height="6" fill="rgb(75,75,75)"/><rect x="222" y="108" width="6" height="6" fill="rgb(81,81,81)"/><rect x="228" y="108" width="6" height="6" fill="rgb(94,94,94)"/><rect x="234" y="108" width="6" height="6" fill="rgb(99,99,99)"/><rect x="240" y="108" width="6" height="6" fill="rgb(99,99,99)"/><rect x="246" y="108" width="6" height="6" fill="rgb(99,99,99)"/><rect x="-18" y="114" width="6" height="6" fill="rgb(138,138,138)"/><rect x="-12" y="114" width="6" height="6" fill="rgb(138,138,138)"/><rect x="-6" y="114" width="6" height="6" fill="rgb(138,138,138)"/><rect x="0" y="114" width="6" height="6" fill="rgb(129,129,129)"/><rect x="6" y="114" width="6" height="6" fill="rgb(113,113,113)"/><rect x="12" y="114" width="6" height="6" fill="rgb(98,98,98)"/><rect x="18" y="114" width="6" height="6" fill="rgb(89,89,89)"/><rect x="24" y="114" width="6" height="6" fill="rgb(85,85,85)"/><rect x="30" y="114" width="6" height="6" fill="rgb(81,81,81)"/><rect x="36" y="114" width="6" height="6" fill="rgb(78,78,78)"/><rect x="42" y="114" width="6" height="6" fill="rgb(74,74,74)"/><rect x="48" y="114" width="6" height="6" fill="rgb(71,71,71)"/><rect x="54" y="114" width="6" height="6" fill="rgb(67,67,67)"/><rect x="60" y="114" width="6" height="6" fill="rgb(64,64,64)"/><rect x="66" y="114" width="6" height="6" fill="rgb(61,61,61)"/><rect x="72" y="114" width="6" height="6" fill="rgb(58,58,58)"/><rect x="78" y="114" width="6" height="6" fill="rgb(55,55,55)"/><rect x="84" y="114" width="6" height="6" fill="rgb(52,52,52)"/><rect x="90" y="114" width="6" height="6" fill="rgb(48,48,48)"/><rect x="96" y="114" width="6" height="6" fill="rgb(46,46,46)"/><rect x="102" y="114" width="6" height="6" fill="rgb(45,45,45)"/><rect x="108" y="114" width="6" height="6" fill="rgb(45,45,45)"/><rect x="114" y="114" width="6" height="6" fill="rgb(44,44,44)"/><rect x="120" y="114" width="6" height="6" fill="rgb(44,44,44)"/><rect x="126" y="114" width="6" height="6" fill="rgb(44,44,44)"/><rect x="132" y="114" width="6" height="6" fill="rgb(45,45,45)"/><rect x="138" y="114" width="6" height="6" fill="rgb(46,46,46)"/><rect x="144" y="114" width="6" height="6" fill="rgb(47,47,47)"/><rect x="150" y="114" width="6" height="6" fill="rgb(48,48,48)"/><rect x="156" y="114" width="6" height="6" fill="rgb(49,49,49)"/><rect x="162" y="114" width="6" height="6" fill="rgb(51,51,51)"/><rect x="168" y="114" width="6" height="6" fill="rgb(53,53,53)"/><rect x="174" y="114" width="6" height="6" fill="rgb(55,55,55)"/><rect x="180" y="114" width="6" height="6" fill="rgb(57,57,57)"/><rect x="186" y="114" width="6" height="6" fill="rgb(59,59,59)"/><rect x="192" y="114" width="6" height="6" fill="rgb(62,62,62)"/><rect x="198" y="114" width="6" height="6" fill="rgb(64,64,64)"/><rect x="204" y="114" width="6" height="6" fill="rgb(66,66,66)"/><rect x="210" y="114" width="6" height="6" fill="rgb(69,69,69)"/><rect x="216" y="114" width="6" height="6" fill="rgb(76,76,76)"/><rect x="222" y="114" width="6" height="6" fill="rgb(83,83,83)"/><rect x="228" y="114" width="6" height="6" fill="rgb(97,97,97)"/><rect x="234" y="114" width="6" height="6" fill="rgb(102,102,102)"/><rect x="240" y="114" width="6" height="6" fill="rgb(102,102,102)"/><rect x="246" y="114" width="6" height="6" fill="rgb(102,102,102)"/><rect x="-18" y="120" width="6" height="6" fill="rgb(136,136,136)"/><rect x="-12" y="120" width="6" height="6" fill="rgb(136,136,136)"/><rect x="-6" y="120" width="6" height="6" fill="rgb(136,136,136)"/><rect x="0" y="120" width="6" height="6" fill="rgb(127,127,127)"/><rect x="6" y="120" width="6" height="6" fill="rgb(112,112,112)"/><rect x="12" y="120" width="6" height="6" fill="rgb(99,99,99)"/><rect x="18" y="120" width="6" height="6" fill="rgb(91,91,91)"/><rect x="24" y="120" width="6" height="6" fill="rgb(87,87,87)"/><rect x="30" y="120" width="6" height="6" fill="rgb(84,84,84)"/><rect x="36" y="120" width="6" height="6" fill="rgb(81,81,81)"/><rect x="42" y="120" width="6" height="6" fill="rgb(77,77,77)"/><rect x="48" y="120" width="6" height="6" fill="rgb(74,74,74)"/><rect x="54" y="120" width="6" height="6" fill="rgb(71,71,71)"/><rect x="60" y="120" width="6" height="6" fill="rgb(68,68,68)"/><rect x="66" y="120" width="6" height="6" fill="rgb(65,65,65)"/><rect x="72" y="120" width="6" height="6" fill="rgb(62,62,62)"/><rect x="78" y="120" width="6" height="6" fill="rgb(59,59,59)"/><rect x="84" y="120" width="6" height="6" fill="rgb(57,57,57)"/><rect x="90" y="120" width="6" height="6" fill="rgb(54,54,54)"/><rect x="96" y="120" width="6" height="6" fill="rgb(51,51,51)"/><rect x="102" y="120" width="6" height="6" fill="rgb(51,51,51)"/><rect x="108" y="120" width="6" height="6" fill="rgb(50,50,50)"/><rect x="114" y="120" width="6" height="6" fill="rgb(49,49,49)"/><rect x="120" y="120" width="6" height="6" fill="rgb(48,48,48)"/><rect x="126" y="120" width="6" height="6" fill="rgb(48,48,48)"/><rect x="132" y="120" width="6" height="6" fill="rgb(49,49,49)"/><rect x="138" y="120" width="6" height="6" fill="rgb(50,50,50)"/><rect x="144" y="120" width="6" height="6" fill="rgb(50,50,50)"/><rect x="150" y="120" width="6" height="6" fill="rgb(51,51,51)"/><rect x="156" y="120" width="6" height="6" fill="rgb(52,52,52)"/><rect x="162" y="120" width="6" height="6" fill="rgb(54,54,54)"/><rect x="168" y="120" width="6" height="6" fill="rgb(56,56,56)"/><rect x="174" y="120" width="6" height="6" fill="rgb(57,57,57)"/><rect x="180" y="120" width="6" height="6" fill="rgb(59,59,59)"/><rect x="186" y="120" width="6" height="6" fill="rgb(61,61,61)"/><rect x="192" y="120" width="6" height="6" fill="rgb(64,64,64)"/><rect x="198" y="120" width="6" height="6" fill="rgb(66,66,66)"/><rect x="204" y="120" width="6" height="6" fill="rgb(69,69,69)"/><rect x="210" y="120" width="6" height="6" fill="rgb(72,72,72)"/><rect x="216" y="120" width="6" height="6" fill="rgb(80,80,80)"/><rect x="222" y="120" width="6" height="6" fill="rgb(89,89,89)"/><rect x="228" y="120" width="6" height="6" fill="rgb(104,104,104)"/><rect x="234" y="120" width="6" height="6" fill="rgb(109,109,109)"/><rect x="240" y="120" width="6" height="6" fill="rgb(109,109,109)"/><rect x="246" y="120" width="6" height="6" fill="rgb(109,109,109)"/><rect x="-18" y="126" width="6" height="6" fill="rgb(135,135,135)"/><rect x="-12" y="126" width="6" height="6" fill="rgb(135,135,135)"/><rect x="-6" y="126" width="6" height="6" fill="rgb(135,135,135)"/><rect x="0" y="126" width="6" height="6" fill="rgb(126,126,126)"/><rect x="6" y="126" width="6" height="6" fill="rgb(112,112,112)"/><rect x="12" y="126" width="6" height="6" fill="rgb(100,100,100)"/><rect x="18" y="126" width="6" height="6" fill="rgb(93,93,93)"/><rect x="24" y="126" width="6" height="6" fill="rgb(90,90,90)"/><rect x="30" y="126" width="6" height="6" fill="rgb(86,86,86)"/><rect x="36" y="126" width="6" height="6" fill="rgb(83,83,83)"/><rect x="42" y="126" width="6" height="6" fill="rgb(80,80,80)"/><rect x="48" y="126" width="6" height="6" fill="rgb(78,78,78)"/><rect x="54" y="126" width="6" height="6" fill="rgb(75,75,75)"/><rect x="60" y="126" width="6" height="6" fill="rgb(72,72,72)"/><rect x="66" y="126" width="6" height="6" fill="rgb(69,69,69)"/><rect x="72" y="126" width="6" height="6" fill="rgb(67,67,67)"/><rect x="78" y="126" width="6" height="6" fill="rgb(64,64,64)"/><rect x="84" y="126" width="6" height="6" fill="rgb(62,62,62)"/><rect x="90" y="126" width="6" height="6" fill="rgb(59,59,59)"/><rect x="96" y="126" width="6" height="6" fill="rgb(57,57,57)"/><rect x="102" y="126" width="6" height="6" fill="rgb(56,56,56)"/><rect x="108" y="126" width="6" height="6" fill="rgb(55,55,55)"/><rect x="114" y="126" width="6" height="6" fill="rgb(54,54,54)"/><rect x="120" y="126" width="6" height="6" fill="rgb(53,53,53)"/><rect x="126" y="126" width="6" height="6" fill="rgb(52,52,52)"/><rect x="132" y="126" width="6" height="6" fill="rgb(53,53,53)"/><rect x="138" y="126" width="6" height="6" fill="rgb(54,54,54)"/><rect x="144" y="126" width="6" height="6" fill="rgb(54,54,54)"/><rect x="150" y="126" width="6" height="6" fill="rgb(55,55,55)"/><rect x="156" y="126" width="6" height="6" fill="rgb(56,56,56)"/><rect x="162" y="126" width="6" height="6" fill="rgb(57,57,57)"/><rect x="168" y="126" width="6" height="6" fill="rgb(59,59,59)"/><rect x="174" y="126" width="6" height="6" fill="rgb(60,60,60)"/><rect x="180" y="126" width="6" height="6" fill="rgb(61,61,61)"/><rect x="186" y="126" width="6" height="6" fill="rgb(63,63,63)"/><rect x="192" y="126" width="6" height="6" fill="rgb(66,66,66)"/><rect x="198" y="126" width="6" height="6" fill="rgb(69,69,69)"/><rect x="204" y="126" width="6" height="6" fill="rgb(72,72,72)"/><rect x="210" y="126" width="6" height="6" fill="rgb(75,75,75)"/><rect x="216" y="126" width="6" height="6" fill="rgb(85,85,85)"/><rect x="222" y="126" width="6" height="6" fill="rgb(95,95,95)"/><rect x="228" y="126" width="6" height="6" fill="rgb(111,111,111)"/><rect x="234" y="126" width="6" height="6" fill="rgb(117,117,117)"/><rect x="240" y="126" width="6" height="6" fill="rgb(117,117,117)"/><rect x="246" y="126" width="6" height="6" fill="rgb(117,117,117)"/><rect x="-18" y="132" width="6" height="6" fill="rgb(134,134,134)"/><rect x="-12" y="132" width="6" height="6" fill="rgb(134,134,134)"/><rect x="-6" y="132" width="6" height="6" fill="rgb(134,134,134)"/><rect x="0" y="132" width="6" height="6" fill="rgb(125,125,125)"/><rect x="6" y="132" width="6" height="6" fill="rgb(112,112,112)"/><rect x="12" y="132" width="6" height="6" fill="rgb(101,101,101)"/><rect x="18" y="132" width="6" height="6" fill="rgb(95,95,95)"/><rect x="24" y="132" width="6" height="6" fill="rgb(92,92,92)"/><rect x="30" y="132" width="6" height="6" fill="rgb(89,89,89)"/><rect x="36" y="132" width="6" height="6" fill="rgb(86,86,86)"/><rect x="42" y="132" width="6" height="6" fill="rgb(84,84,84)"/><rect x="48" y="132" width="6" height="6" fill="rgb(81,81,81)"/><rect x="54" y="132" width="6" height="6" fill="rgb(79,79,79)"/><rect x="60" y="132" width="6" height="6" fill="rgb(76,76,76)"/><rect x="66" y="132" width="6" height="6" fill="rgb(74,74,74)"/><rect x="72" y="132" width="6" height="6" fill="rgb(71,71,71)"/><rect x="78" y="132" width="6" height="6" fill="rgb(69,69,69)"/><rect x="84" y="132" width="6" height="6" fill="rgb(67,67,67)"/><rect x="90" y="132" width="6" height="6" fill="rgb(64,64,64)"/><rect x="96" y="132" width="6" height="6" fill="rgb(62,62,62)"/><rect x="102" y="132" width="6" height="6" fill="rgb(61,61,61)"/><rect x="108" y="132" width="6" height="6" fill="rgb(60,60,60)"/><rect x="114" y="132" width="6" height="6" fill="rgb(58,58,58)"/><rect x="120" y="132" width="6" height="6" fill="rgb(57,57,57)"/><rect x="126" y="132" width="6" height="6" fill="rgb(56,56,56)"/><rect x="132" y="132" width="6" height="6" fill="rgb(57,57,57)"/><rect x="138" y="132" width="6" height="6" fill="rgb(58,58,58)"/><rect x="144" y="132" width="6" height="6" fill="rgb(58,58,58)"/><rect x="150" y="132" width="6" height="6" fill="rgb(59,59,59)"/><rect x="156" y="132" width="6" height="6" fill="rgb(60,60,60)"/><rect x="162" y="132" width="6" height="6" fill="rgb(61,61,61)"/><rect x="168" y="132" width="6" height="6" fill="rgb(61,61,61)"/><rect x="174" y="132" width="6" height="6" fill="rgb(62,62,62)"/><rect x="180" y="132" width="6" height="6" fill="rgb(63,63,63)"/><rect x="186" y="132" width="6" height="6" fill="rgb(65,65,65)"/><rect x="192" y="132" width="6" height="6" fill="rgb(68,68,68)"/><rect x="198" y="132" width="6" height="6" fill="rgb(71,71,71)"/><rect x="204" y="132" width="6" height="6" fill="rgb(75,75,75)"/><rect x="210" y="132" width="6" height="6" fill="rgb(78,78,78)"/><rect x="216" y="132" width="6" height="6" fill="rgb(89,89,89)"/><rect x="222" y="132" width="6" height="6" fill="rgb(101,101,101)"/><rect x="228" y="132" width="6" height="6" fill="rgb(118,118,118)"/><rect x="234" y="132" width="6" height="6" fill="rgb(124,124,124)"/><rect x="240" y="132" width="6" height="6" fill="rgb(124,124,124)"/><rect x="246" y="132" width="6" height="6" fill="rgb(124,124,124)"/><rect x="-18" y="138" width="6" height="6" fill="rgb(133,133,133)"/><rect x="-12" y="138" width="6" height="6" fill="rgb(133,133,133)"/><rect x="-6" y="138" width="6" height="6" fill="rgb(133,133,133)"/><rect x="0" y="138" width="6" height="6" fill="rgb(124,124,124)"/><rect x="6" y="138" width="6" height="6" fill="rgb(111,111,111)"/><rect x="12" y="138" width="6" height="6" fill="rgb(102,102,102)"/><rect x="18" y="138" width="6" height="6" fill="rgb(97,97,97)"/><rect x="24" y="138" width="6" height="6" fill="rgb(94,94,94)"/><rect x="30" y="138" width="6" height="6" fill="rgb(92,92,92)"/><rect x="36" y="138" width="6" height="6" fill="rgb(89,89,89)"/><rect x="42" y="138" width="6" height="6" fill="rgb(87,87,87)"/><rect x="48" y="138" width="6" height="6" fill="rgb(85,85,85)"/><rect x="54" y="138" width="6" height="6" fill="rgb(82,82,82)"/><rect x="60" y="138" width="6" height="6" fill="rgb(80,80,80)"/><rect x="66" y="138" width="6" height="6" fill="rgb(78,78,78)"/><rect x="72" y="138" width="6" height="6" fill="rgb(76,76,76)"/><rect x="78" y="138" width="6" height="6" fill="rgb(74,74,74)"/><rect x="84" y="138" width="6" height="6" fill="rgb(72,72,72)"/><rect x="90" y="138" width="6" height="6" fill="rgb(70,70,70)"/><rect x="96" y="138" width="6" height="6" fill="rgb(68,68,68)"/><rect x="102" y="138" width="6" height="6" fill="rgb(66,66,66)"/><rect x="108" y="138" width="6" height="6" fill="rgb(65,65,65)"/><rect x="114" y="138" width="6" height="6" fill="rgb(63,63,63)"/><rect x="120" y="138" width="6" height="6" fill="rgb(62,62,62)"/><rect x="126" y="138" width="6" height="6" fill="rgb(61,61,61)"/><rect x="132" y="138" width="6" height="6" fill="rgb(61,61,61)"/><rect x="138" y="138" width="6" height="6" fill="rgb(62,62,62)"/><rect x="144" y="138" width="6" height="6" fill="rgb(62,62,62)"/><rect x="150" y="138" width="6" height="6" fill="rgb(63,63,63)"/><rect x="156" y="138" width="6" height="6" fill="rgb(63,63,63)"/><rect x="162" y="138" width="6" height="6" fill="rgb(64,64,64)"/><rect x="168" y="138" width="6" height="6" fill="rgb(64,64,64)"/><rect x="174" y="138" width="6" height="6" fill="rgb(65,65,65)"/><rect x="180" y="138" width="6" height="6" fill="rgb(66,66,66)"/><rect x="186" y="138" width="6" height="6" fill="rgb(67,67,67)"/><rect x="192" y="138" width="6" height="6" fill="rgb(70,70,70)"/><rect x="198" y="138" width="6" height="6" fill="rgb(74,74,74)"/><rect x="204" y="138" width="6" height="6" fill="rgb(77,77,77)"/><rect x="210" y="138" width="6" height="6" fill="rgb(81,81,81)"/><rect x="216" y="138" width="6" height="6" fill="rgb(94,94,94)"/><rect x="222" y="138" width="6" height="6" fill="rgb(107,107,107)"/><rect x="228" y="138" width="6" height="6" fill="rgb(125,125,125)"/><rect x="234" y="138" width="6" height="6" fill="rgb(131,131,131)"/><rect x="240" y="138" width="6" height="6" fill="rgb(131,131,131)"/><rect x="246" y="138" width="6" height="6" fill="rgb(131,131,131)"/><rect x="-18" y="144" width="6" height="6" fill="rgb(135,135,135)"/><rect x="-12" y="144" width="6" height="6" fill="rgb(135,135,135)"/><rect x="-6" y="144" width="6" height="6" fill="rgb(135,135,135)"/><rect x="0" y="144" width="6" height="6" fill="rgb(128,128,128)"/><rect x="6" y="144" width="6" height="6" fill="rgb(119,119,119)"/><rect x="12" y="144" width="6" height="6" fill="rgb(112,112,112)"/><rect x="18" y="144" width="6" height="6" fill="rgb(108,108,108)"/><rect x="24" y="144" width="6" height="6" fill="rgb(106,106,106)"/><rect x="30" y="144" width="6" height="6" fill="rgb(104,104,104)"/><rect x="36" y="144" width="6" height="6" fill="rgb(102,102,102)"/><rect x="42" y="144" width="6" height="6" fill="rgb(100,100,100)"/><rect x="48" y="144" width="6" height="6" fill="rgb(98,98,98)"/><rect x="54" y="144" width="6" height="6" fill="rgb(96,96,96)"/><rect x="60" y="144" width="6" height="6" fill="rgb(94,94,94)"/><rect x="66" y="144" width="6" height="6" fill="rgb(92,92,92)"/><rect x="72" y="144" width="6" height="6" fill="rgb(90,90,90)"/><rect x="78" y="144" width="6" height="6" fill="rgb(87,87,87)"/><rect x="84" y="144" width="6" height="6" fill="rgb(85,85,85)"/><rect x="90" y="144" width="6" height="6" fill="rgb(83,83,83)"/><rect x="96" y="144" width="6" height="6" fill="rgb(80,80,80)"/><rect x="102" y="144" width="6" height="6" fill="rgb(78,78,78)"/><rect x="108" y="144" width="6" height="6" fill="rgb(76,76,76)"/><rect x="114" y="144" width="6" height="6" fill="rgb(73,73,73)"/><rect x="120" y="144" width="6" height="6" fill="rgb(71,71,71)"/><rect x="126" y="144" width="6" height="6" fill="rgb(69,69,69)"/><rect x="132" y="144" width="6" height="6" fill="rgb(69,69,69)"/><rect x="138" y="144" width="6" height="6" fill="rgb(69,69,69)"/><rect x="144" y="144" width="6" height="6" fill="rgb(69,69,69)"/><rect x="150" y="144" width="6" height="6" fill="rgb(69,69,69)"/><rect x="156" y="144" width="6" height="6" fill="rgb(69,69,69)"/><rect x="162" y="144" width="6" height="6" fill="rgb(69,69,69)"/><rect x="168" y="144" width="6" height="6" fill="rgb(70,70,70)"/><rect x="174" y="144" width="6" height="6" fill="rgb(71,71,71)"/><rect x="180" y="144" width="6" height="6" fill="rgb(71,71,71)"/><rect x="186" y="144" width="6" height="6" fill="rgb(73,73,73)"/><rect x="192" y="144" width="6" height="6" fill="rgb(77,77,77)"/><rect x="198" y="144" width="6" height="6" fill="rgb(81,81,81)"/><rect x="204" y="144" width="6" height="6" fill="rgb(85,85,85)"/><rect x="210" y="144" width="6" height="6" fill="rgb(89,89,89)"/><rect x="216" y="144" width="6" height="6" fill="rgb(103,103,103)"/><rect x="222" y="144" width="6" height="6" fill="rgb(117,117,117)"/><rect x="228" y="144" width="6" height="6" fill="rgb(136,136,136)"/><rect x="234" y="144" width="6" height="6" fill="rgb(143,143,143)"/><rect x="240" y="144" width="6" height="6" fill="rgb(143,143,143)"/><rect x="246" y="144" width="6" height="6" fill="rgb(143,143,143)"/><rect x="-18" y="150" width="6" height="6" fill="rgb(139,139,139)"/><rect x="-12" y="150" width="6" height="6" fill="rgb(139,139,139)"/><rect x="-6" y="150" width="6" height="6" fill="rgb(139,139,139)"/><rect x="0" y="150" width="6" height="6" fill="rgb(134,134,134)"/><rect x="6" y="150" width="6" height="6" fill="rgb(128,128,128)"/><rect x="12" y="150" width="6" height="6" fill="rgb(124,124,124)"/><rect x="18" y="150" width="6" height="6" fill="rgb(121,121,121)"/><rect x="24" y="150" width="6" height="6" fill="rgb(120,120,120)"/><rect x="30" y="150" width="6" height="6" fill="rgb(118,118,118)"/><rect x="36" y="150" width="6" height="6" fill="rgb(117,117,117)"/><rect x="42" y="150" width="6" height="6" fill="rgb(115,115,115)"/><rect x="48" y="150" width="6" height="6" fill="rgb(114,114,114)"/><rect x="54" y="150" width="6" height="6" fill="rgb(112,112,112)"/><rect x="60" y="150" width="6" height="6" fill="rgb(110,110,110)"/><rect x="66" y="150" width="6" height="6" fill="rgb(108,108,108)"/><rect x="72" y="150" width="6" height="6" fill="rgb(106,106,106)"/><rect x="78" y="150" width="6" height="6" fill="rgb(103,103,103)"/><rect x="84" y="150" width="6" height="6" fill="rgb(100,100,100)"/><rect x="90" y="150" width="6" height="6" fill="rgb(98,98,98)"/><rect x="96" y="150" width="6" height="6" fill="rgb(95,95,95)"/><rect x="102" y="150" width="6" height="6" fill="rgb(91,91,91)"/><rect x="108" y="150" width="6" height="6" fill="rgb(88,88,88)"/><rect x="114" y="150" width="6" height="6" fill="rgb(85,85,85)"/><rect x="120" y="150" width="6" height="6" fill="rgb(81,81,81)"/><rect x="126" y="150" width="6" height="6" fill="rgb(78,78,78)"/><rect x="132" y="150" width="6" height="6" fill="rgb(77,77,77)"/><rect x="138" y="150" width="6" height="6" fill="rgb(77,77,77)"/><rect x="144" y="150" width="6" height="6" fill="rgb(76,76,76)"/><rect x="150" y="150" width="6" height="6" fill="rgb(75,75,75)"/><rect x="156" y="150" width="6" height="6" fill="rgb(75,75,75)"/><rect x="162" y="150" width="6" height="6" fill="rgb(76,76,76)"/><rect x="168" y="150" width="6" height="6" fill="rgb(76,76,76)"/><rect x="174" y="150" width="6" height="6" fill="rgb(77,77,77)"/><rect x="180" y="150" width="6" height="6" fill="rgb(78,78,78)"/><rect x="186" y="150" width="6" height="6" fill="rgb(80,80,80)"/><rect x="192" y="150" width="6" height="6" fill="rgb(84,84,84)"/><rect x="198" y="150" width="6" height="6" fill="rgb(89,89,89)"/><rect x="204" y="150" width="6" height="6" fill="rgb(94,94,94)"/><rect x="210" y="150" width="6" height="6" fill="rgb(99,99,99)"/><rect x="216" y="150" width="6" height="6" fill="rgb(114,114,114)"/><rect x="222" y="150" width="6" height="6" fill="rgb(129,129,129)"/><rect x="228" y="150" width="6" height="6" fill="rgb(148,148,148)"/><rect x="234" y="150" width="6" height="6" fill="rgb(154,154,154)"/><rect x="240" y="150" width="6" height="6" fill="rgb(154,154,154)"/><rect x="246" y="150" width="6" height="6" fill="rgb(154,154,154)"/><rect x="-18" y="156" width="6" height="6" fill="rgb(142,142,142)"/><rect x="-12" y="156" width="6" height="6" fill="rgb(142,142,142)"/><rect x="-6" y="156" width="6" height="6" fill="rgb(142,142,142)"/><rect x="0" y="156" width="6" height="6" fill="rgb(140,140,140)"/><rect x="6" y="156" width="6" height="6" fill="rgb(138,138,138)"/><rect x="12" y="156" width="6" height="6" fill="rgb(135,135,135)"/><rect x="18" y="156" width="6" height="6" fill="rgb(134,134,134)"/><rect x="24" y="156" width="6" height="6" fill="rgb(133,133,133)"/><rect x="30" y="156" width="6" height="6" fill="rgb(133,133,133)"/><rect x="36" y="156" width="6" height="6" fill="rgb(132,132,132)"/><rect x="42" y="156" width="6" height="6" fill="rgb(131,131,131)"/><rect x="48" y="156" width="6" height="6" fill="rgb(129,129,129)"/><rect x="54" y="156" width="6" height="6" fill="rgb(128,128,128)"/><rect x="60" y="156" width="6" height="6" fill="rgb(126,126,126)"/><rect x="66" y="156" width="6" height="6" fill="rgb(124,124,124)"/><rect x="72" y="156" width="6" height="6" fill="rgb(121,121,121)"/><rect x="78" y="156" width="6" height="6" fill="rgb(118,118,118)"/><rect x="84" y="156" width="6" height="6" fill="rgb(115,115,115)"/><rect x="90" y="156" width="6" height="6" fill="rgb(112,112,112)"/><rect x="96" y="156" width="6" height="6" fill="rgb(109,109,109)"/><rect x="102" y="156" width="6" height="6" fill="rgb(105,105,105)"/><rect x="108" y="156" width="6" height="6" fill="rgb(100,100,100)"/><rect x="114" y="156" width="6" height="6" fill="rgb(96,96,96)"/><rect x="120" y="156" width="6" height="6" fill="rgb(91,91,91)"/><rect x="126" y="156" width="6" height="6" fill="rgb(87,87,87)"/><rect x="132" y="156" width="6" height="6" fill="rgb(86,86,86)"/><rect x="138" y="156" width="6" height="6" fill="rgb(85,85,85)"/><rect x="144" y="156" width="6" height="6" fill="rgb(83,83,83)"/><rect x="150" y="156" width="6" height="6" fill="rgb(82,82,82)"/><rect x="156" y="156" width="6" height="6" fill="rgb(81,81,81)"/><rect x="162" y="156" width="6" height="6" fill="rgb(82,82,82)"/><rect x="168" y="156" width="6" height="6" fill="rgb(83,83,83)"/><rect x="174" y="156" width="6" height="6" fill="rgb(84,84,84)"/><rect x="180" y="156" width="6" height="6" fill="rgb(85,85,85)"/><rect x="186" y="156" width="6" height="6" fill="rgb(86,86,86)"/><rect x="192" y="156" width="6" height="6" fill="rgb(92,92,92)"/><rect x="198" y="156" width="6" height="6" fill="rgb(97,97,97)"/><rect x="204" y="156" width="6" height="6" fill="rgb(103,103,103)"/><rect x="210" y="156" width="6" height="6" fill="rgb(108,108,108)"/><rect x="216" y="156" width="6" height="6" fill="rgb(124,124,124)"/><rect x="222" y="156" width="6" height="6" fill="rgb(141,141,141)"/><rect x="228" y="156" width="6" height="6" fill="rgb(160,160,160)"/><rect x="234" y="156" width="6" height="6" fill="rgb(166,166,166)"/><rect x="240" y="156" width="6" height="6" fill="rgb(166,166,166)"/><rect x="246" y="156" width="6" height="6" fill="rgb(166,166,166)"/><rect x="-18" y="162" width="6" height="6" fill="rgb(147,147,147)"/><rect x="-12" y="162" width="6" height="6" fill="rgb(147,147,147)"/><rect x="-6" y="162" width="6" height="6" fill="rgb(147,147,147)"/><rect x="0" y="162" width="6" height="6" fill="rgb(146,146,146)"/><rect x="6" y="162" width="6" height="6" fill="rgb(145,145,145)"/><rect x="12" y="162" width="6" height="6" fill="rgb(145,145,145)"/><rect x="18" y="162" width="6" height="6" fill="rgb(145,145,145)"/><rect x="24" y="162" width="6" height="6" fill="rgb(145,145,145)"/><rect x="30" y="162" width="6" height="6" fill="rgb(145,145,145)"/><rect x="36" y="162" width="6" height="6" fill="rgb(145,145,145)"/><rect x="42" y="162" width="6" height="6" fill="rgb(145,145,145)"/><rect x="48" y="162" width="6" height="6" fill="rgb(144,144,144)"/><rect x="54" y="162" width="6" height="6" fill="rgb(143,143,143)"/><rect x="60" y="162" width="6" height="6" fill="rgb(141,141,141)"/><rect x="66" y="162" width="6" height="6" fill="rgb(140,140,140)"/><rect x="72" y="162" width="6" height="6" fill="rgb(136,136,136)"/><rect x="78" y="162" width="6" height="6" fill="rgb(132,132,132)"/><rect x="84" y="162" width="6" height="6" fill="rgb(129,129,129)"/><rect x="90" y="162" width="6" height="6" fill="rgb(125,125,125)"/><rect x="96" y="162" width="6" height="6" fill="rgb(121,121,121)"/><rect x="102" y="162" width="6" height="6" fill="rgb(116,116,116)"/><rect x="108" y="162" width="6" height="6" fill="rgb(111,111,111)"/><rect x="114" y="162" width="6" height="6" fill="rgb(106,106,106)"/><rect x="120" y="162" width="6" height="6" fill="rgb(101,101,101)"/><rect x="126" y="162" width="6" height="6" fill="rgb(96,96,96)"/><rect x="132" y="162" width="6" height="6" fill="rgb(95,95,95)"/><rect x="138" y="162" width="6" height="6" fill="rgb(93,93,93)"/><rect x="144" y="162" width="6" height="6" fill="rgb(92,92,92)"/><rect x="150" y="162" width="6" height="6" fill="rgb(90,90,90)"/><rect x="156" y="162" width="6" height="6" fill="rgb(89,89,89)"/><rect x="162" y="162" width="6" height="6" fill="rgb(90,90,90)"/><rect x="168" y="162" width="6" height="6" fill="rgb(92,92,92)"/><rect x="174" y="162" width="6" height="6" fill="rgb(93,93,93)"/><rect x="180" y="162" width="6" height="6" fill="rgb(94,94,94)"/><rect x="186" y="162" width="6" height="6" fill="rgb(96,96,96)"/><rect x="192" y="162" width="6" height="6" fill="rgb(102,102,102)"/><rect x="198" y="162" width="6" height="6" fill="rgb(108,108,108)"/><rect x="204" y="162" width="6" height="6" fill="rgb(114,114,114)"/><rect x="210" y="162" width="6" height="6" fill="rgb(120,120,120)"/><rect x="216" y="162" width="6" height="6" fill="rgb(138,138,138)"/><rect x="222" y="162" width="6" height="6" fill="rgb(155,155,155)"/><rect x="228" y="162" width="6" height="6" fill="rgb(174,174,174)"/><rect x="234" y="162" width="6" height="6" fill="rgb(181,181,181)"/><rect x="240" y="162" width="6" height="6" fill="rgb(181,181,181)"/><rect x="246" y="162" width="6" height="6" fill="rgb(181,181,181)"/><rect x="-18" y="168" width="6" height="6" fill="rgb(152,152,152)"/><rect x="-12" y="168" width="6" height="6" fill="rgb(152,152,152)"/><rect x="-6" y="168" width="6" height="6" fill="rgb(152,152,152)"/><rect x="0" y="168" width="6" height="6" fill="rgb(152,152,152)"/><rect x="6" y="168" width="6" height="6" fill="rgb(153,153,153)"/><rect x="12" y="168" width="6" height="6" fill="rgb(154,154,154)"/><rect x="18" y="168" width="6" height="6" fill="rgb(156,156,156)"/><rect x="24" y="168" width="6" height="6" fill="rgb(157,157,157)"/><rect x="30" y="168" width="6" height="6" fill="rgb(158,158,158)"/><rect x="36" y="168" width="6" height="6" fill="rgb(159,159,159)"/><rect x="42" y="168" width="6" height="6" fill="rgb(159,159,159)"/><rect x="48" y="168" width="6" height="6" fill="rgb(158,158,158)"/><rect x="54" y="168" width="6" height="6" fill="rgb(157,157,157)"/><rect x="60" y="168" width="6" height="6" fill="rgb(156,156,156)"/><rect x="66" y="168" width="6" height="6" fill="rgb(155,155,155)"/><rect x="72" y="168" width="6" height="6" fill="rgb(150,150,150)"/><rect x="78" y="168" width="6" height="6" fill="rgb(146,146,146)"/><rect x="84" y="168" width="6" height="6" fill="rgb(141,141,141)"/><rect x="90" y="168" width="6" height="6" fill="rgb(137,137,137)"/><rect x="96" y="168" width="6" height="6" fill="rgb(132,132,132)"/><rect x="102" y="168" width="6" height="6" fill="rgb(127,127,127)"/><rect x="108" y="168" width="6" height="6" fill="rgb(121,121,121)"/><rect x="114" y="168" width="6" height="6" fill="rgb(116,116,116)"/><rect x="120" y="168" width="6" height="6" fill="rgb(110,110,110)"/><rect x="126" y="168" width="6" height="6" fill="rgb(105,105,105)"/><rect x="132" y="168" width="6" height="6" fill="rgb(104,104,104)"/><rect x="138" y="168" width="6" height="6" fill="rgb(102,102,102)"/><rect x="144" y="168" width="6" height="6" fill="rgb(101,101,101)"/><rect x="150" y="168" width="6" height="6" fill="rgb(99,99,99)"/><rect x="156" y="168" width="6" height="6" fill="rgb(98,98,98)"/><rect x="162" y="168" width="6" height="6" fill="rgb(100,100,100)"/><rect x="168" y="168" width="6" height="6" fill="rgb(101,101,101)"/><rect x="174" y="168" width="6" height="6" fill="rgb(103,103,103)"/><rect x="180" y="168" width="6" height="6" fill="rgb(104,104,104)"/><rect x="186" y="168" width="6" height="6" fill="rgb(107,107,107)"/><rect x="192" y="168" width="6" height="6" fill="rgb(113,113,113)"/><rect x="198" y="168" width="6" height="6" fill="rgb(120,120,120)"/><rect x="204" y="168" width="6" height="6" fill="rgb(126,126,126)"/><rect x="210" y="168" width="6" height="6" fill="rgb(133,133,133)"/><rect x="216" y="168" width="6" height="6" fill="rgb(152,152,152)"/><rect x="222" y="168" width="6" height="6" fill="rgb(170,170,170)"/><rect x="228" y="168" width="6" height="6" fill="rgb(190,190,190)"/><rect x="234" y="168" width="6" height="6" fill="rgb(196,196,196)"/><rect x="240" y="168" width="6" height="6" fill="rgb(196,196,196)"/><rect x="246" y="168" width="6" height="6" fill="rgb(196,196,196)"/><rect x="-18" y="174" width="6" height="6" fill="rgb(155,155,155)"/><rect x="-12" y="174" width="6" height="6" fill="rgb(155,155,155)"/><rect x="-6" y="174" width="6" height="6" fill="rgb(155,155,155)"/><rect x="0" y="174" width="6" height="6" fill="rgb(155,155,155)"/><rect x="6" y="174" width="6" height="6" fill="rgb(156,156,156)"/><rect x="12" y="174" width="6" height="6" fill="rgb(158,158,158)"/><rect x="18" y="174" width="6" height="6" fill="rgb(160,160,160)"/><rect x="24" y="174" width="6" height="6" fill="rgb(161,161,161)"/><rect x="30" y="174" width="6" height="6" fill="rgb(162,162,162)"/><rect x="36" y="174" width="6" height="6" fill="rgb(163,163,163)"/><rect x="42" y="174" width="6" height="6" fill="rgb(164,164,164)"/><rect x="48" y="174" width="6" height="6" fill="rgb(163,163,163)"/><rect x="54" y="174" width="6" height="6" fill="rgb(162,162,162)"/><rect x="60" y="174" width="6" height="6" fill="rgb(161,161,161)"/><rect x="66" y="174" width="6" height="6" fill="rgb(159,159,159)"/><rect x="72" y="174" width="6" height="6" fill="rgb(155,155,155)"/><rect x="78" y="174" width="6" height="6" fill="rgb(150,150,150)"/><rect x="84" y="174" width="6" height="6" fill="rgb(146,146,146)"/><rect x="90" y="174" width="6" height="6" fill="rgb(141,141,141)"/><rect x="96" y="174" width="6" height="6" fill="rgb(136,136,136)"/><rect x="102" y="174" width="6" height="6" fill="rgb(131,131,131)"/><rect x="108" y="174" width="6" height="6" fill="rgb(126,126,126)"/><rect x="114" y="174" width="6" height="6" fill="rgb(120,120,120)"/><rect x="120" y="174" width="6" height="6" fill="rgb(115,115,115)"/><rect x="126" y="174" width="6" height="6" fill="rgb(110,110,110)"/><rect x="132" y="174" width="6" height="6" fill="rgb(109,109,109)"/><rect x="138" y="174" width="6" height="6" fill="rgb(107,107,107)"/><rect x="144" y="174" width="6" height="6" fill="rgb(106,106,106)"/><rect x="150" y="174" width="6" height="6" fill="rgb(105,105,105)"/><rect x="156" y="174" width="6" height="6" fill="rgb(104,104,104)"/><rect x="162" y="174" width="6" height="6" fill="rgb(106,106,106)"/><rect x="168" y="174" width="6" height="6" fill="rgb(107,107,107)"/><rect x="174" y="174" width="6" height="6" fill="rgb(109,109,109)"/><rect x="180" y="174" width="6" height="6" fill="rgb(111,111,111)"/><rect x="186" y="174" width="6" height="6" fill="rgb(114,114,114)"/><rect x="192" y="174" width="6" height="6" fill="rgb(120,120,120)"/><rect x="198" y="174" width="6" height="6" fill="rgb(127,127,127)"/><rect x="204" y="174" width="6" height="6" fill="rgb(134,134,134)"/><rect x="210" y="174" width="6" height="6" fill="rgb(140,140,140)"/><rect x="216" y="174" width="6" height="6" fill="rgb(160,160,160)"/><rect x="222" y="174" width="6" height="6" fill="rgb(179,179,179)"/><rect x="228" y="174" width="6" height="6" fill="rgb(197,197,197)"/><rect x="234" y="174" width="6" height="6" fill="rgb(203,203,203)"/><rect x="240" y="174" width="6" height="6" fill="rgb(203,203,203)"/><rect x="246" y="174" width="6" height="6" fill="rgb(203,203,203)"/><rect x="-18" y="180" width="6" height="6" fill="rgb(158,158,158)"/><rect x="-12" y="180" width="6" height="6" fill="rgb(158,158,158)"/><rect x="-6" y="180" width="6" height="6" fill="rgb(158,158,158)"/><rect x="0" y="180" width="6" height="6" fill="rgb(158,158,158)"/><rect x="6" y="180" width="6" height="6" fill="rgb(159,159,159)"/><rect x="12" y="180" width="6" height="6" fill="rgb(161,161,161)"/><rect x="18" y="180" width="6" height="6" fill="rgb(162,162,162)"/><rect x="24" y="180" width="6" height="6" fill="rgb(163,163,163)"/><rect x="30" y="180" width="6" height="6" fill="rgb(165,165,165)"/><rect x="36" y="180" width="6" height="6" fill="rgb(166,166,166)"/><rect x="42" y="180" width="6" height="6" fill="rgb(166,166,166)"/><rect x="48" y="180" width="6" height="6" fill="rgb(165,165,165)"/><rect x="54" y="180" width="6" height="6" fill="rgb(164,164,164)"/><rect x="60" y="180" width="6" height="6" fill="rgb(164,164,164)"/><rect x="66" y="180" width="6" height="6" fill="rgb(162,162,162)"/><rect x="72" y="180" width="6" height="6" fill="rgb(157,157,157)"/><rect x="78" y="180" width="6" height="6" fill="rgb(153,153,153)"/><rect x="84" y="180" width="6" height="6" fill="rgb(148,148,148)"/><rect x="90" y="180" width="6" height="6" fill="rgb(144,144,144)"/><rect x="96" y="180" width="6" height="6" fill="rgb(139,139,139)"/><rect x="102" y="180" width="6" height="6" fill="rgb(134,134,134)"/><rect x="108" y="180" width="6" height="6" fill="rgb(129,129,129)"/><rect x="114" y="180" width="6" height="6" fill="rgb(124,124,124)"/><rect x="120" y="180" width="6" height="6" fill="rgb(118,118,118)"/><rect x="126" y="180" width="6" height="6" fill="rgb(114,114,114)"/><rect x="132" y="180" width="6" height="6" fill="rgb(113,113,113)"/><rect x="138" y="180" width="6" height="6" fill="rgb(112,112,112)"/><rect x="144" y="180" width="6" height="6" fill="rgb(111,111,111)"/><rect x="150" y="180" width="6" height="6" fill="rgb(110,110,110)"/><rect x="156" y="180" width="6" height="6" fill="rgb(109,109,109)"/><rect x="162" y="180" width="6" height="6" fill="rgb(111,111,111)"/><rect x="168" y="180" width="6" height="6" fill="rgb(113,113,113)"/><rect x="174" y="180" width="6" height="6" fill="rgb(115,115,115)"/><rect x="180" y="180" width="6" height="6" fill="rgb(117,117,117)"/><rect x="186" y="180" width="6" height="6" fill="rgb(120,120,120)"/><rect x="192" y="180" width="6" height="6" fill="rgb(127,127,127)"/><rect x="198" y="180" width="6" height="6" fill="rgb(133,133,133)"/><rect x="204" y="180" width="6" height="6" fill="rgb(140,140,140)"/><rect x="210" y="180" width="6" height="6" fill="rgb(147,147,147)"/><rect x="216" y="180" width="6" height="6" fill="rgb(167,167,167)"/><rect x="222" y="180" width="6" height="6" fill="rgb(187,187,187)"/><rect x="228" y="180" width="6" height="6" fill="rgb(203,203,203)"/><rect x="234" y="180" width="6" height="6" fill="rgb(208,208,208)"/><rect x="240" y="180" width="6" height="6" fill="rgb(208,208,208)"/><rect x="246" y="180" width="6" height="6" fill="rgb(208,208,208)"/><rect x="-18" y="186" width="6" height="6" fill="rgb(158,158,158)"/><rect x="-12" y="186" width="6" height="6" fill="rgb(158,158,158)"/><rect x="-6" y="186" width="6" height="6" fill="rgb(158,158,158)"/><rect x="0" y="186" width="6" height="6" fill="rgb(158,158,158)"/><rect x="6" y="186" width="6" height="6" fill="rgb(159,159,159)"/><rect x="12" y="186" width="6" height="6" fill="rgb(161,161,161)"/><rect x="18" y="186" width="6" height="6" fill="rgb(163,163,163)"/><rect x="24" y="186" width="6" height="6" fill="rgb(164,164,164)"/><rect x="30" y="186" width="6" height="6" fill="rgb(165,165,165)"/><rect x="36" y="186" width="6" height="6" fill="rgb(166,166,166)"/><rect x="42" y="186" width="6" height="6" fill="rgb(167,167,167)"/><rect x="48" y="186" width="6" height="6" fill="rgb(166,166,166)"/><rect x="54" y="186" width="6" height="6" fill="rgb(165,165,165)"/><rect x="60" y="186" width="6" height="6" fill="rgb(164,164,164)"/><rect x="66" y="186" width="6" height="6" fill="rgb(162,162,162)"/><rect x="72" y="186" width="6" height="6" fill="rgb(158,158,158)"/><rect x="78" y="186" width="6" height="6" fill="rgb(153,153,153)"/><rect x="84" y="186" width="6" height="6" fill="rgb(149,149,149)"/><rect x="90" y="186" width="6" height="6" fill="rgb(144,144,144)"/><rect x="96" y="186" width="6" height="6" fill="rgb(139,139,139)"/><rect x="102" y="186" width="6" height="6" fill="rgb(134,134,134)"/><rect x="108" y="186" width="6" height="6" fill="rgb(129,129,129)"/><rect x="114" y="186" width="6" height="6" fill="rgb(124,124,124)"/><rect x="120" y="186" width="6" height="6" fill="rgb(119,119,119)"/><rect x="126" y="186" width="6" height="6" fill="rgb(115,115,115)"/><rect x="132" y="186" width="6" height="6" fill="rgb(114,114,114)"/><rect x="138" y="186" width="6" height="6" fill="rgb(113,113,113)"/><rect x="144" y="186" width="6" height="6" fill="rgb(112,112,112)"/><rect x="150" y="186" width="6" height="6" fill="rgb(110,110,110)"/><rect x="156" y="186" width="6" height="6" fill="rgb(110,110,110)"/><rect x="162" y="186" width="6" height="6" fill="rgb(112,112,112)"/><rect x="168" y="186" width="6" height="6" fill="rgb(114,114,114)"/><rect x="174" y="186" width="6" height="6" fill="rgb(116,116,116)"/><rect x="180" y="186" width="6" height="6" fill="rgb(118,118,118)"/><rect x="186" y="186" width="6" height="6" fill="rgb(121,121,121)"/><rect x="192" y="186" width="6" height="6" fill="rgb(128,128,128)"/><rect x="198" y="186" width="6" height="6" fill="rgb(134,134,134)"/><rect x="204" y="186" width="6" height="6" fill="rgb(141,141,141)"/><rect x="210" y="186" width="6" height="6" fill="rgb(148,148,148)"/><rect x="216" y="186" width="6" height="6" fill="rgb(168,168,168)"/><rect x="222" y="186" width="6" height="6" fill="rgb(188,188,188)"/><rect x="228" y="186" width="6" height="6" fill="rgb(204,204,204)"/><rect x="234" y="186" width="6" height="6" fill="rgb(209,209,209)"/><rect x="240" y="186" width="6" height="6" fill="rgb(209,209,209)"/><rect x="246" y="186" width="6" height="6" fill="rgb(209,209,209)"/><rect x="-18" y="192" width="6" height="6" fill="rgb(158,158,158)"/><rect x="-12" y="192" width="6" height="6" fill="rgb(158,158,158)"/><rect x="-6" y="192" width="6" height="6" fill="rgb(158,158,158)"/><rect x="0" y="192" width="6" height="6" fill="rgb(158,158,158)"/><rect x="6" y="192" width="6" height="6" fill="rgb(159,159,159)"/><rect x="12" y="192" width="6" height="6" fill="rgb(161,161,161)"/><rect x="18" y="192" width="6" height="6" fill="rgb(163,163,163)"/><rect x="24" y="192" width="6" height="6" fill="rgb(164,164,164)"/><rect x="30" y="192" width="6" height="6" fill="rgb(165,165,165)"/><rect x="36" y="192" width="6" height="6" fill="rgb(166,166,166)"/><rect x="42" y="192" width="6" height="6" fill="rgb(167,167,167)"/><rect x="48" y="192" width="6" height="6" fill="rgb(166,166,166)"/><rect x="54" y="192" width="6" height="6" fill="rgb(165,165,165)"/><rect x="60" y="192" width="6" height="6" fill="rgb(164,164,164)"/><rect x="66" y="192" width="6" height="6" fill="rgb(162,162,162)"/><rect x="72" y="192" width="6" height="6" fill="rgb(158,158,158)"/><rect x="78" y="192" width="6" height="6" fill="rgb(153,153,153)"/><rect x="84" y="192" width="6" height="6" fill="rgb(149,149,149)"/><rect x="90" y="192" width="6" height="6" fill="rgb(144,144,144)"/><rect x="96" y="192" width="6" height="6" fill="rgb(139,139,139)"/><rect x="102" y="192" width="6" height="6" fill="rgb(134,134,134)"/><rect x="108" y="192" width="6" height="6" fill="rgb(129,129,129)"/><rect x="114" y="192" width="6" height="6" fill="rgb(124,124,124)"/><rect x="120" y="192" width="6" height="6" fill="rgb(119,119,119)"/><rect x="126" y="192" width="6" height="6" fill="rgb(115,115,115)"/><rect x="132" y="192" width="6" height="6" fill="rgb(114,114,114)"/><rect x="138" y="192" width="6" height="6" fill="rgb(113,113,113)"/><rect x="144" y="192" width="6" height="6" fill="rgb(112,112,112)"/><rect x="150" y="192" width="6" height="6" fill="rgb(110,110,110)"/><rect x="156" y="192" width="6" height="6" fill="rgb(110,110,110)"/><rect x="162" y="192" width="6" height="6" fill="rgb(112,112,112)"/><rect x="168" y="192" width="6" height="6" fill="rgb(114,114,114)"/><rect x="174" y="192" width="6" height="6" fill="rgb(116,116,116)"/><rect x="180" y="192" width="6" height="6" fill="rgb(118,118,118)"/><rect x="186" y="192" width="6" height="6" fill="rgb(121,121,121)"/><rect x="192" y="192" width="6" height="6" fill="rgb(128,128,128)"/><rect x="198" y="192" width="6" height="6" fill="rgb(134,134,134)"/><rect x="204" y="192" width="6" height="6" fill="rgb(141,141,141)"/><rect x="210" y="192" width="6" height="6" fill="rgb(148,148,148)"/><rect x="216" y="192" width="6" height="6" fill="rgb(168,168,168)"/><rect x="222" y="192" width="6" height="6" fill="rgb(188,188,188)"/><rect x="228" y="192" width="6" height="6" fill="rgb(204,204,204)"/><rect x="234" y="192" width="6" height="6" fill="rgb(209,209,209)"/><rect x="240" y="192" width="6" height="6" fill="rgb(209,209,209)"/><rect x="246" y="192" width="6" height="6" fill="rgb(209,209,209)"/><rect x="-18" y="198" width="6" height="6" fill="rgb(158,158,158)"/><rect x="-12" y="198" width="6" height="6" fill="rgb(158,158,158)"/><rect x="-6" y="198" width="6" height="6" fill="rgb(158,158,158)"/><rect x="0" y="198" width="6" height="6" fill="rgb(158,158,158)"/><rect x="6" y="198" width="6" height="6" fill="rgb(159,159,159)"/><rect x="12" y="198" width="6" height="6" fill="rgb(161,161,161)"/><rect x="18" y="198" width="6" height="6" fill="rgb(163,163,163)"/><rect x="24" y="198" width="6" height="6" fill="rgb(164,164,164)"/><rect x="30" y="198" width="6" height="6" fill="rgb(165,165,165)"/><rect x="36" y="198" width="6" height="6" fill="rgb(166,166,166)"/><rect x="42" y="198" width="6" height="6" fill="rgb(167,167,167)"/><rect x="48" y="198" width="6" height="6" fill="rgb(166,166,166)"/><rect x="54" y="198" width="6" height="6" fill="rgb(165,165,165)"/><rect x="60" y="198" width="6" height="6" fill="rgb(164,164,164)"/><rect x="66" y="198" width="6" height="6" fill="rgb(162,162,162)"/><rect x="72" y="198" width="6" height="6" fill="rgb(158,158,158)"/><rect x="78" y="198" width="6" height="6" fill="rgb(153,153,153)"/><rect x="84" y="198" width="6" height="6" fill="rgb(149,149,149)"/><rect x="90" y="198" width="6" height="6" fill="rgb(144,144,144)"/><rect x="96" y="198" width="6" height="6" fill="rgb(139,139,139)"/><rect x="102" y="198" width="6" height="6" fill="rgb(134,134,134)"/><rect x="108" y="198" width="6" height="6" fill="rgb(129,129,129)"/><rect x="114" y="198" width="6" height="6" fill="rgb(124,124,124)"/><rect x="120" y="198" width="6" height="6" fill="rgb(119,119,119)"/><rect x="126" y="198" width="6" height="6" fill="rgb(115,115,115)"/><rect x="132" y="198" width="6" height="6" fill="rgb(114,114,114)"/><rect x="138" y="198" width="6" height="6" fill="rgb(113,113,113)"/><rect x="144" y="198" width="6" height="6" fill="rgb(112,112,112)"/><rect x="150" y="198" width="6" height="6" fill="rgb(110,110,110)"/><rect x="156" y="198" width="6" height="6" fill="rgb(110,110,110)"/><rect x="162" y="198" width="6" height="6" fill="rgb(112,112,112)"/><rect x="168" y="198" width="6" height="6" fill="rgb(114,114,114)"/><rect x="174" y="198" width="6" height="6" fill="rgb(116,116,116)"/><rect x="180" y="198" width="6" height="6" fill="rgb(118,118,118)"/><rect x="186" y="198" width="6" height="6" fill="rgb(121,121,121)"/><rect x="192" y="198" width="6" height="6" fill="rgb(128,128,128)"/><rect x="198" y="198" width="6" height="6" fill="rgb(134,134,134)"/><rect x="204" y="198" width="6" height="6" fill="rgb(141,141,141)"/><rect x="210" y="198" width="6" height="6" fill="rgb(148,148,148)"/><rect x="216" y="198" width="6" height="6" fill="rgb(168,168,168)"/><rect x="222" y="198" width="6" height="6" fill="rgb(188,188,188)"/><rect x="228" y="198" width="6" height="6" fill="rgb(204,204,204)"/><rect x="234" y="198" width="6" height="6" fill="rgb(209,209,209)"/><rect x="240" y="198" width="6" height="6" fill="rgb(209,209,209)"/><rect x="246" y="198" width="6" height="6" fill="rgb(209,209,209)"/></g>
<circle cx="-5.3" cy="50.7" r="6.9" fill="url(#g)" opacity="0.32"/><circle cx="-4.1" cy="65.0" r="6.9" fill="url(#g)" opacity="0.31"/><circle cx="-2.9" cy="79.4" r="6.9" fill="url(#g)" opacity="0.30"/><circle cx="-1.6" cy="93.8" r="6.9" fill="url(#g)" opacity="0.45"/><circle cx="-0.4" cy="108.1" r="6.9" fill="url(#g)" opacity="0.44"/><circle cx="0.8" cy="122.4" r="6.9" fill="url(#g)" opacity="0.42"/><circle cx="2.0" cy="136.8" r="6.9" fill="url(#g)" opacity="0.50"/><circle cx="3.2" cy="151.2" r="6.9" fill="url(#g)" opacity="0.52"/><circle cx="4.5" cy="165.5" r="6.9" fill="url(#g)" opacity="0.59"/><circle cx="5.7" cy="179.9" r="6.9" fill="url(#g)" opacity="0.52"/><circle cx="5.2" cy="6.4" r="6.9" fill="url(#g)" opacity="0.18"/><circle cx="6.5" cy="20.8" r="6.9" fill="url(#g)" opacity="0.17"/><circle cx="7.7" cy="35.1" r="6.9" fill="url(#g)" opacity="0.66"/><circle cx="8.9" cy="49.5" r="6.9" fill="url(#g)" opacity="0.42"/><circle cx="10.1" cy="63.8" r="6.9" fill="url(#g)" opacity="0.81"/><circle cx="11.3" cy="78.2" r="6.9" fill="url(#g)" opacity="0.56"/><circle cx="12.6" cy="92.5" r="6.9" fill="url(#g)" opacity="0.53"/><circle cx="13.8" cy="106.8" r="6.9" fill="url(#g)" opacity="0.42"/><circle cx="15.0" cy="121.2" r="6.9" fill="url(#g)" opacity="0.21"/><circle cx="16.2" cy="135.6" r="6.9" fill="url(#g)" opacity="0.80"/><circle cx="17.4" cy="149.9" r="6.9" fill="url(#g)" opacity="0.37"/><circle cx="18.7" cy="164.2" r="6.9" fill="url(#g)" opacity="0.57"/><circle cx="19.9" cy="178.6" r="6.9" fill="url(#g)" opacity="0.54"/><circle cx="19.4" cy="5.2" r="6.9" fill="url(#g)" opacity="0.15"/><circle cx="20.7" cy="19.5" r="6.9" fill="url(#g)" opacity="0.14"/><circle cx="21.9" cy="33.9" r="6.9" fill="url(#g)" opacity="0.37"/><circle cx="23.1" cy="48.2" r="6.9" fill="url(#g)" opacity="0.54"/><circle cx="24.3" cy="62.5" r="6.9" fill="url(#g)" opacity="0.52"/><circle cx="25.5" cy="76.9" r="6.9" fill="url(#g)" opacity="0.41"/><circle cx="26.8" cy="91.2" r="6.9" fill="url(#g)" opacity="0.38"/><circle cx="28.0" cy="105.6" r="6.9" fill="url(#g)" opacity="0.67"/><circle cx="29.2" cy="119.9" r="6.9" fill="url(#g)" opacity="0.19"/><circle cx="30.4" cy="134.3" r="6.9" fill="url(#g)" opacity="0.52"/><circle cx="31.6" cy="148.7" r="6.9" fill="url(#g)" opacity="0.23"/><circle cx="32.9" cy="163.0" r="6.9" fill="url(#g)" opacity="0.67"/><circle cx="34.1" cy="177.4" r="6.9" fill="url(#g)" opacity="0.55"/><circle cx="33.6" cy="3.9" r="6.9" fill="url(#g)" opacity="0.14"/><circle cx="34.9" cy="18.2" r="6.9" fill="url(#g)" opacity="0.13"/><circle cx="36.1" cy="32.6" r="6.9" fill="url(#g)" opacity="0.52"/><circle cx="37.3" cy="47.0" r="6.9" fill="url(#g)" opacity="0.63"/><circle cx="38.5" cy="61.3" r="6.9" fill="url(#g)" opacity="0.49"/><circle cx="39.7" cy="75.7" r="6.9" fill="url(#g)" opacity="0.38"/><circle cx="41.0" cy="90.0" r="6.9" fill="url(#g)" opacity="0.55"/><circle cx="42.2" cy="104.3" r="6.9" fill="url(#g)" opacity="0.29"/><circle cx="43.4" cy="118.7" r="6.9" fill="url(#g)" opacity="0.43"/><circle cx="44.6" cy="133.1" r="6.9" fill="url(#g)" opacity="0.19"/><circle cx="45.8" cy="147.4" r="6.9" fill="url(#g)" opacity="0.41"/><circle cx="47.1" cy="161.8" r="6.9" fill="url(#g)" opacity="0.43"/><circle cx="48.3" cy="176.1" r="6.9" fill="url(#g)" opacity="0.55"/><circle cx="49.5" cy="190.4" r="6.9" fill="url(#g)" opacity="0.37"/><circle cx="47.8" cy="2.7" r="6.9" fill="url(#g)" opacity="0.13"/><circle cx="49.1" cy="17.0" r="6.9" fill="url(#g)" opacity="0.12"/><circle cx="50.3" cy="31.4" r="6.9" fill="url(#g)" opacity="0.32"/><circle cx="51.5" cy="45.7" r="6.9" fill="url(#g)" opacity="0.20"/><circle cx="52.7" cy="60.0" r="6.9" fill="url(#g)" opacity="0.54"/><circle cx="53.9" cy="74.4" r="6.9" fill="url(#g)" opacity="0.43"/><circle cx="55.2" cy="88.8" r="6.9" fill="url(#g)" opacity="0.32"/><circle cx="56.4" cy="103.1" r="6.9" fill="url(#g)" opacity="0.46"/><circle cx="57.6" cy="117.4" r="6.9" fill="url(#g)" opacity="0.32"/><circle cx="58.8" cy="131.8" r="6.9" fill="url(#g)" opacity="0.56"/><circle cx="60.0" cy="146.2" r="6.9" fill="url(#g)" opacity="0.39"/><circle cx="61.3" cy="160.5" r="6.9" fill="url(#g)" opacity="0.61"/><circle cx="62.5" cy="174.9" r="6.9" fill="url(#g)" opacity="0.54"/><circle cx="63.7" cy="189.2" r="6.9" fill="url(#g)" opacity="0.36"/><circle cx="62.0" cy="1.4" r="6.9" fill="url(#g)" opacity="0.12"/><circle cx="63.3" cy="15.8" r="6.9" fill="url(#g)" opacity="0.31"/><circle cx="64.5" cy="30.1" r="6.9" fill="url(#g)" opacity="0.29"/><circle cx="65.7" cy="44.5" r="6.9" fill="url(#g)" opacity="0.44"/><circle cx="66.9" cy="58.8" r="6.9" fill="url(#g)" opacity="0.18"/><circle cx="68.1" cy="73.2" r="6.9" fill="url(#g)" opacity="0.47"/><circle cx="69.4" cy="87.5" r="6.9" fill="url(#g)" opacity="0.36"/><circle cx="70.6" cy="101.8" r="6.9" fill="url(#g)" opacity="0.36"/><circle cx="71.8" cy="116.2" r="6.9" fill="url(#g)" opacity="0.35"/><circle cx="73.0" cy="130.6" r="6.9" fill="url(#g)" opacity="0.58"/><circle cx="74.2" cy="144.9" r="6.9" fill="url(#g)" opacity="0.30"/><circle cx="75.5" cy="159.2" r="6.9" fill="url(#g)" opacity="0.48"/><circle cx="76.7" cy="173.6" r="6.9" fill="url(#g)" opacity="0.50"/><circle cx="77.9" cy="187.9" r="6.9" fill="url(#g)" opacity="0.33"/><circle cx="76.2" cy="0.2" r="6.9" fill="url(#g)" opacity="0.11"/><circle cx="77.5" cy="14.5" r="6.9" fill="url(#g)" opacity="0.10"/><circle cx="78.7" cy="28.9" r="6.9" fill="url(#g)" opacity="0.32"/><circle cx="79.9" cy="43.2" r="6.9" fill="url(#g)" opacity="0.35"/><circle cx="81.1" cy="57.5" r="6.9" fill="url(#g)" opacity="0.49"/><circle cx="82.3" cy="71.9" r="6.9" fill="url(#g)" opacity="0.50"/><circle cx="83.6" cy="86.2" r="6.9" fill="url(#g)" opacity="0.39"/><circle cx="84.8" cy="100.6" r="6.9" fill="url(#g)" opacity="0.51"/><circle cx="86.0" cy="114.9" r="6.9" fill="url(#g)" opacity="0.16"/><circle cx="87.2" cy="129.3" r="6.9" fill="url(#g)" opacity="0.47"/><circle cx="88.4" cy="143.7" r="6.9" fill="url(#g)" opacity="0.69"/><circle cx="89.7" cy="158.0" r="6.9" fill="url(#g)" opacity="0.44"/><circle cx="90.9" cy="172.4" r="6.9" fill="url(#g)" opacity="0.45"/><circle cx="92.1" cy="186.7" r="6.9" fill="url(#g)" opacity="0.30"/><circle cx="90.4" cy="-1.1" r="6.9" fill="url(#g)" opacity="0.10"/><circle cx="91.7" cy="13.2" r="6.9" fill="url(#g)" opacity="0.10"/><circle cx="92.9" cy="27.6" r="6.9" fill="url(#g)" opacity="0.60"/><circle cx="94.1" cy="42.0" r="6.9" fill="url(#g)" opacity="0.39"/><circle cx="95.3" cy="56.3" r="6.9" fill="url(#g)" opacity="0.41"/><circle cx="96.5" cy="70.7" r="6.9" fill="url(#g)" opacity="0.53"/><circle cx="97.8" cy="85.0" r="6.9" fill="url(#g)" opacity="0.54"/><circle cx="99.0" cy="99.3" r="6.9" fill="url(#g)" opacity="0.41"/><circle cx="100.2" cy="113.7" r="6.9" fill="url(#g)" opacity="0.16"/><circle cx="101.4" cy="128.1" r="6.9" fill="url(#g)" opacity="0.60"/><circle cx="102.6" cy="142.4" r="6.9" fill="url(#g)" opacity="0.32"/><circle cx="103.9" cy="156.8" r="6.9" fill="url(#g)" opacity="0.33"/><circle cx="105.1" cy="171.1" r="6.9" fill="url(#g)" opacity="0.40"/><circle cx="106.3" cy="185.4" r="6.9" fill="url(#g)" opacity="0.27"/><circle cx="104.6" cy="-2.3" r="6.9" fill="url(#g)" opacity="0.10"/><circle cx="105.9" cy="12.0" r="6.9" fill="url(#g)" opacity="0.09"/><circle cx="107.1" cy="26.4" r="6.9" fill="url(#g)" opacity="0.09"/><circle cx="108.3" cy="40.7" r="6.9" fill="url(#g)" opacity="0.08"/><circle cx="109.5" cy="55.0" r="6.9" fill="url(#g)" opacity="0.43"/><circle cx="110.7" cy="69.4" r="6.9" fill="url(#g)" opacity="0.15"/><circle cx="112.0" cy="83.8" r="6.9" fill="url(#g)" opacity="0.55"/><circle cx="113.2" cy="98.1" r="6.9" fill="url(#g)" opacity="0.64"/><circle cx="114.4" cy="112.4" r="6.9" fill="url(#g)" opacity="0.40"/><circle cx="115.6" cy="126.8" r="6.9" fill="url(#g)" opacity="0.50"/><circle cx="116.8" cy="141.2" r="6.9" fill="url(#g)" opacity="0.47"/><circle cx="118.1" cy="155.5" r="6.9" fill="url(#g)" opacity="0.31"/><circle cx="119.3" cy="169.9" r="6.9" fill="url(#g)" opacity="0.36"/><circle cx="120.5" cy="184.2" r="6.9" fill="url(#g)" opacity="0.25"/><circle cx="118.8" cy="-3.6" r="6.9" fill="url(#g)" opacity="0.09"/><circle cx="120.1" cy="10.8" r="6.9" fill="url(#g)" opacity="0.09"/><circle cx="121.3" cy="25.1" r="6.9" fill="url(#g)" opacity="0.40"/><circle cx="122.5" cy="39.5" r="6.9" fill="url(#g)" opacity="0.43"/><circle cx="123.7" cy="53.8" r="6.9" fill="url(#g)" opacity="0.08"/><circle cx="124.9" cy="68.2" r="6.9" fill="url(#g)" opacity="0.44"/><circle cx="126.2" cy="82.5" r="6.9" fill="url(#g)" opacity="0.15"/><circle cx="127.4" cy="96.8" r="6.9" fill="url(#g)" opacity="0.15"/><circle cx="128.6" cy="111.2" r="6.9" fill="url(#g)" opacity="0.15"/><circle cx="129.8" cy="125.6" r="6.9" fill="url(#g)" opacity="0.50"/><circle cx="131.0" cy="139.9" r="6.9" fill="url(#g)" opacity="0.17"/><circle cx="132.3" cy="154.2" r="6.9" fill="url(#g)" opacity="0.68"/><circle cx="133.5" cy="168.6" r="6.9" fill="url(#g)" opacity="0.33"/><circle cx="134.7" cy="182.9" r="6.9" fill="url(#g)" opacity="0.23"/><circle cx="133.0" cy="-4.8" r="6.9" fill="url(#g)" opacity="0.09"/><circle cx="134.3" cy="9.5" r="6.9" fill="url(#g)" opacity="0.09"/><circle cx="135.5" cy="23.9" r="6.9" fill="url(#g)" opacity="0.16"/><circle cx="136.7" cy="38.2" r="6.9" fill="url(#g)" opacity="0.65"/><circle cx="137.9" cy="52.5" r="6.9" fill="url(#g)" opacity="0.55"/><circle cx="139.1" cy="66.9" r="6.9" fill="url(#g)" opacity="0.15"/><circle cx="140.4" cy="81.2" r="6.9" fill="url(#g)" opacity="0.43"/><circle cx="141.6" cy="95.6" r="6.9" fill="url(#g)" opacity="0.08"/><circle cx="142.8" cy="109.9" r="6.9" fill="url(#g)" opacity="0.16"/><circle cx="144.0" cy="124.3" r="6.9" fill="url(#g)" opacity="0.50"/><circle cx="145.2" cy="138.7" r="6.9" fill="url(#g)" opacity="0.59"/><circle cx="146.5" cy="153.0" r="6.9" fill="url(#g)" opacity="0.56"/><circle cx="147.7" cy="167.4" r="6.9" fill="url(#g)" opacity="0.21"/><circle cx="148.9" cy="181.7" r="6.9" fill="url(#g)" opacity="0.23"/><circle cx="148.5" cy="8.2" r="6.9" fill="url(#g)" opacity="0.09"/><circle cx="149.7" cy="22.6" r="6.9" fill="url(#g)" opacity="0.40"/><circle cx="150.9" cy="37.0" r="6.9" fill="url(#g)" opacity="0.08"/><circle cx="152.1" cy="51.3" r="6.9" fill="url(#g)" opacity="0.15"/><circle cx="153.3" cy="65.7" r="6.9" fill="url(#g)" opacity="0.08"/><circle cx="154.6" cy="80.0" r="6.9" fill="url(#g)" opacity="0.15"/><circle cx="155.8" cy="94.3" r="6.9" fill="url(#g)" opacity="0.41"/><circle cx="157.0" cy="108.7" r="6.9" fill="url(#g)" opacity="0.52"/><circle cx="158.2" cy="123.1" r="6.9" fill="url(#g)" opacity="0.16"/><circle cx="159.4" cy="137.4" r="6.9" fill="url(#g)" opacity="0.59"/><circle cx="160.7" cy="151.8" r="6.9" fill="url(#g)" opacity="0.56"/><circle cx="161.9" cy="166.1" r="6.9" fill="url(#g)" opacity="0.20"/><circle cx="163.1" cy="180.4" r="6.9" fill="url(#g)" opacity="0.23"/><circle cx="162.7" cy="7.0" r="6.9" fill="url(#g)" opacity="0.09"/><circle cx="163.9" cy="21.4" r="6.9" fill="url(#g)" opacity="0.62"/><circle cx="165.1" cy="35.7" r="6.9" fill="url(#g)" opacity="0.65"/><circle cx="166.3" cy="50.0" r="6.9" fill="url(#g)" opacity="0.42"/><circle cx="167.5" cy="64.4" r="6.9" fill="url(#g)" opacity="0.15"/><circle cx="168.8" cy="78.8" r="6.9" fill="url(#g)" opacity="0.41"/><circle cx="170.0" cy="93.1" r="6.9" fill="url(#g)" opacity="0.40"/><circle cx="171.2" cy="107.4" r="6.9" fill="url(#g)" opacity="0.50"/><circle cx="172.4" cy="121.8" r="6.9" fill="url(#g)" opacity="0.36"/><circle cx="173.6" cy="136.2" r="6.9" fill="url(#g)" opacity="0.34"/><circle cx="174.9" cy="150.5" r="6.9" fill="url(#g)" opacity="0.69"/><circle cx="176.1" cy="164.9" r="6.9" fill="url(#g)" opacity="0.20"/><circle cx="177.3" cy="179.2" r="6.9" fill="url(#g)" opacity="0.23"/><circle cx="176.9" cy="5.8" r="6.9" fill="url(#g)" opacity="0.09"/><circle cx="178.1" cy="20.1" r="6.9" fill="url(#g)" opacity="0.49"/><circle cx="179.3" cy="34.5" r="6.9" fill="url(#g)" opacity="0.08"/><circle cx="180.5" cy="48.8" r="6.9" fill="url(#g)" opacity="0.53"/><circle cx="181.7" cy="63.2" r="6.9" fill="url(#g)" opacity="0.52"/><circle cx="183.0" cy="77.5" r="6.9" fill="url(#g)" opacity="0.51"/><circle cx="184.2" cy="91.8" r="6.9" fill="url(#g)" opacity="0.61"/><circle cx="185.4" cy="106.2" r="6.9" fill="url(#g)" opacity="0.60"/><circle cx="186.6" cy="120.6" r="6.9" fill="url(#g)" opacity="0.48"/><circle cx="187.8" cy="134.9" r="6.9" fill="url(#g)" opacity="0.59"/><circle cx="189.1" cy="149.2" r="6.9" fill="url(#g)" opacity="0.29"/><circle cx="190.3" cy="163.6" r="6.9" fill="url(#g)" opacity="0.21"/><circle cx="191.5" cy="177.9" r="6.9" fill="url(#g)" opacity="0.24"/><circle cx="191.1" cy="4.5" r="6.9" fill="url(#g)" opacity="0.10"/><circle cx="192.3" cy="18.9" r="6.9" fill="url(#g)" opacity="0.09"/><circle cx="193.5" cy="33.2" r="6.9" fill="url(#g)" opacity="0.62"/><circle cx="194.7" cy="47.5" r="6.9" fill="url(#g)" opacity="0.16"/><circle cx="195.9" cy="61.9" r="6.9" fill="url(#g)" opacity="0.61"/><circle cx="197.2" cy="76.2" r="6.9" fill="url(#g)" opacity="0.60"/><circle cx="198.4" cy="90.6" r="6.9" fill="url(#g)" opacity="0.48"/><circle cx="199.6" cy="104.9" r="6.9" fill="url(#g)" opacity="0.71"/><circle cx="200.8" cy="119.3" r="6.9" fill="url(#g)" opacity="0.33"/><circle cx="202.0" cy="133.7" r="6.9" fill="url(#g)" opacity="0.69"/><circle cx="203.3" cy="148.0" r="6.9" fill="url(#g)" opacity="0.30"/><circle cx="204.5" cy="162.4" r="6.9" fill="url(#g)" opacity="0.22"/><circle cx="205.7" cy="176.7" r="6.9" fill="url(#g)" opacity="0.27"/><circle cx="205.3" cy="3.3" r="6.9" fill="url(#g)" opacity="0.11"/><circle cx="206.5" cy="17.6" r="6.9" fill="url(#g)" opacity="0.53"/><circle cx="207.7" cy="32.0" r="6.9" fill="url(#g)" opacity="0.58"/><circle cx="208.9" cy="46.3" r="6.9" fill="url(#g)" opacity="0.17"/><circle cx="210.1" cy="60.7" r="6.9" fill="url(#g)" opacity="0.46"/><circle cx="211.4" cy="75.0" r="6.9" fill="url(#g)" opacity="0.58"/><circle cx="212.6" cy="89.3" r="6.9" fill="url(#g)" opacity="0.58"/><circle cx="213.8" cy="103.7" r="6.9" fill="url(#g)" opacity="0.70"/><circle cx="215.0" cy="118.1" r="6.9" fill="url(#g)" opacity="0.30"/><circle cx="216.2" cy="132.4" r="6.9" fill="url(#g)" opacity="0.67"/><circle cx="217.5" cy="146.8" r="6.9" fill="url(#g)" opacity="0.49"/><circle cx="218.7" cy="161.1" r="6.9" fill="url(#g)" opacity="0.26"/><circle cx="219.9" cy="175.4" r="6.9" fill="url(#g)" opacity="0.35"/><circle cx="221.1" cy="189.8" r="6.9" fill="url(#g)" opacity="0.41"/><circle cx="219.5" cy="2.0" r="6.9" fill="url(#g)" opacity="0.16"/><circle cx="220.7" cy="16.4" r="6.9" fill="url(#g)" opacity="0.14"/><circle cx="221.9" cy="30.7" r="6.9" fill="url(#g)" opacity="0.21"/><circle cx="223.1" cy="45.0" r="6.9" fill="url(#g)" opacity="0.20"/><circle cx="224.3" cy="59.4" r="6.9" fill="url(#g)" opacity="0.19"/><circle cx="225.6" cy="73.8" r="6.9" fill="url(#g)" opacity="0.42"/><circle cx="226.8" cy="88.1" r="6.9" fill="url(#g)" opacity="0.29"/><circle cx="228.0" cy="102.4" r="6.9" fill="url(#g)" opacity="0.30"/><circle cx="229.2" cy="116.8" r="6.9" fill="url(#g)" opacity="0.51"/><circle cx="230.4" cy="131.2" r="6.9" fill="url(#g)" opacity="0.36"/><circle cx="231.7" cy="145.5" r="6.9" fill="url(#g)" opacity="0.53"/><circle cx="232.9" cy="159.9" r="6.9" fill="url(#g)" opacity="0.38"/><circle cx="234.1" cy="174.2" r="6.9" fill="url(#g)" opacity="0.61"/><circle cx="235.3" cy="188.6" r="6.9" fill="url(#g)" opacity="0.72"/><circle cx="233.7" cy="0.8" r="6.9" fill="url(#g)" opacity="0.29"/><circle cx="234.9" cy="15.1" r="6.9" fill="url(#g)" opacity="0.41"/><circle cx="236.1" cy="29.5" r="6.9" fill="url(#g)" opacity="0.26"/><circle cx="237.3" cy="43.8" r="6.9" fill="url(#g)" opacity="0.22"/><circle cx="238.5" cy="58.2" r="6.9" fill="url(#g)" opacity="0.21"/>
</g>
</svg>
<rect x="42.4" y="28.4" width="232.2" height="183.7" fill="none" stroke="#000" stroke-opacity="0.22" stroke-width="0.8"/>
<svg x="384" y="28" width="246" height="184" overflow="hidden">
<g filter="url(#cmR)">
<rect width="246" height="184" fill="#000"/>
<circle cx="40.8" cy="37.7" r="6.3" fill="url(#g)" opacity="0.31"/><circle cx="53.8" cy="38.0" r="6.3" fill="url(#g)" opacity="0.41"/><circle cx="66.9" cy="38.3" r="6.3" fill="url(#g)" opacity="0.57"/><circle cx="79.9" cy="38.7" r="6.3" fill="url(#g)" opacity="0.52"/><circle cx="106.0" cy="39.3" r="6.3" fill="url(#g)" opacity="0.88"/><circle cx="119.0" cy="39.6" r="6.3" fill="url(#g)" opacity="0.36"/><circle cx="132.1" cy="39.9" r="6.3" fill="url(#g)" opacity="0.43"/><circle cx="145.1" cy="40.3" r="6.3" fill="url(#g)" opacity="0.43"/><circle cx="158.2" cy="40.6" r="6.3" fill="url(#g)" opacity="0.64"/><circle cx="171.2" cy="40.9" r="6.3" fill="url(#g)" opacity="0.52"/><circle cx="184.2" cy="41.2" r="6.3" fill="url(#g)" opacity="0.82"/><circle cx="197.3" cy="41.5" r="6.3" fill="url(#g)" opacity="0.49"/><circle cx="210.3" cy="41.9" r="6.3" fill="url(#g)" opacity="0.34"/><circle cx="223.4" cy="42.2" r="6.3" fill="url(#g)" opacity="0.39"/><circle cx="236.4" cy="42.5" r="6.3" fill="url(#g)" opacity="0.57"/><circle cx="27.3" cy="50.5" r="6.3" fill="url(#g)" opacity="0.46"/><circle cx="40.3" cy="50.8" r="6.3" fill="url(#g)" opacity="0.36"/><circle cx="53.3" cy="51.1" r="6.3" fill="url(#g)" opacity="0.46"/><circle cx="66.4" cy="51.4" r="6.3" fill="url(#g)" opacity="0.62"/><circle cx="79.4" cy="51.8" r="6.3" fill="url(#g)" opacity="0.39"/><circle cx="92.5" cy="52.1" r="6.3" fill="url(#g)" opacity="0.31"/><circle cx="105.5" cy="52.4" r="6.3" fill="url(#g)" opacity="0.46"/><circle cx="118.5" cy="52.7" r="6.3" fill="url(#g)" opacity="0.34"/><circle cx="131.6" cy="53.0" r="6.3" fill="url(#g)" opacity="0.43"/><circle cx="144.6" cy="53.4" r="6.3" fill="url(#g)" opacity="0.36"/><circle cx="157.7" cy="53.7" r="6.3" fill="url(#g)" opacity="0.41"/><circle cx="170.7" cy="54.0" r="6.3" fill="url(#g)" opacity="0.43"/><circle cx="183.7" cy="54.3" r="6.3" fill="url(#g)" opacity="0.43"/><circle cx="196.8" cy="54.6" r="6.3" fill="url(#g)" opacity="0.49"/><circle cx="209.8" cy="55.0" r="6.3" fill="url(#g)" opacity="0.36"/><circle cx="222.9" cy="55.3" r="6.3" fill="url(#g)" opacity="0.36"/><circle cx="235.9" cy="55.6" r="6.3" fill="url(#g)" opacity="0.36"/><circle cx="26.8" cy="63.6" r="6.3" fill="url(#g)" opacity="0.62"/><circle cx="39.8" cy="63.9" r="6.3" fill="url(#g)" opacity="0.46"/><circle cx="52.8" cy="64.2" r="6.3" fill="url(#g)" opacity="0.41"/><circle cx="65.9" cy="64.5" r="6.3" fill="url(#g)" opacity="0.49"/><circle cx="78.9" cy="64.9" r="6.3" fill="url(#g)" opacity="0.26"/><circle cx="92.0" cy="65.2" r="6.3" fill="url(#g)" opacity="0.39"/><circle cx="105.0" cy="65.5" r="6.3" fill="url(#g)" opacity="0.41"/><circle cx="118.0" cy="65.8" r="6.3" fill="url(#g)" opacity="0.52"/><circle cx="131.1" cy="66.1" r="6.3" fill="url(#g)" opacity="0.49"/><circle cx="144.1" cy="66.5" r="6.3" fill="url(#g)" opacity="0.60"/><circle cx="157.2" cy="66.8" r="6.3" fill="url(#g)" opacity="0.43"/><circle cx="170.2" cy="67.1" r="6.3" fill="url(#g)" opacity="0.31"/><circle cx="183.2" cy="67.4" r="6.3" fill="url(#g)" opacity="0.36"/><circle cx="196.3" cy="67.7" r="6.3" fill="url(#g)" opacity="0.36"/><circle cx="209.3" cy="68.1" r="6.3" fill="url(#g)" opacity="0.39"/><circle cx="222.4" cy="68.4" r="6.3" fill="url(#g)" opacity="0.41"/><circle cx="235.4" cy="68.7" r="6.3" fill="url(#g)" opacity="0.57"/><circle cx="26.3" cy="76.7" r="6.3" fill="url(#g)" opacity="0.36"/><circle cx="39.3" cy="77.0" r="6.3" fill="url(#g)" opacity="0.46"/><circle cx="52.3" cy="77.3" r="6.3" fill="url(#g)" opacity="0.29"/><circle cx="65.4" cy="77.6" r="6.3" fill="url(#g)" opacity="0.31"/><circle cx="78.4" cy="78.0" r="6.3" fill="url(#g)" opacity="0.33"/><circle cx="91.5" cy="78.3" r="6.3" fill="url(#g)" opacity="0.36"/><circle cx="104.5" cy="78.6" r="6.3" fill="url(#g)" opacity="0.39"/><circle cx="117.5" cy="78.9" r="6.3" fill="url(#g)" opacity="0.41"/><circle cx="130.6" cy="79.2" r="6.3" fill="url(#g)" opacity="0.36"/><circle cx="143.6" cy="79.6" r="6.3" fill="url(#g)" opacity="0.41"/><circle cx="156.7" cy="79.9" r="6.3" fill="url(#g)" opacity="0.26"/><circle cx="169.7" cy="80.2" r="6.3" fill="url(#g)" opacity="0.62"/><circle cx="182.7" cy="80.5" r="6.3" fill="url(#g)" opacity="0.88"/><circle cx="195.8" cy="80.8" r="6.3" fill="url(#g)" opacity="0.52"/><circle cx="208.8" cy="81.2" r="6.3" fill="url(#g)" opacity="0.36"/><circle cx="221.9" cy="81.5" r="6.3" fill="url(#g)" opacity="0.43"/><circle cx="234.9" cy="81.8" r="6.3" fill="url(#g)" opacity="0.54"/><circle cx="25.8" cy="89.8" r="6.3" fill="url(#g)" opacity="0.46"/><circle cx="38.8" cy="90.1" r="6.3" fill="url(#g)" opacity="0.36"/><circle cx="51.8" cy="90.4" r="6.3" fill="url(#g)" opacity="0.41"/><circle cx="64.9" cy="90.7" r="6.3" fill="url(#g)" opacity="0.34"/><circle cx="77.9" cy="91.1" r="6.3" fill="url(#g)" opacity="0.36"/><circle cx="91.0" cy="91.4" r="6.3" fill="url(#g)" opacity="0.46"/><circle cx="104.0" cy="91.7" r="6.3" fill="url(#g)" opacity="0.54"/><circle cx="117.0" cy="92.0" r="6.3" fill="url(#g)" opacity="0.88"/><circle cx="130.1" cy="92.3" r="6.3" fill="url(#g)" opacity="0.43"/><circle cx="143.1" cy="92.7" r="6.3" fill="url(#g)" opacity="0.43"/><circle cx="156.2" cy="93.0" r="6.3" fill="url(#g)" opacity="0.43"/><circle cx="169.2" cy="93.3" r="6.3" fill="url(#g)" opacity="0.26"/><circle cx="182.2" cy="93.6" r="6.3" fill="url(#g)" opacity="0.31"/><circle cx="195.3" cy="93.9" r="6.3" fill="url(#g)" opacity="0.62"/><circle cx="208.3" cy="94.3" r="6.3" fill="url(#g)" opacity="0.43"/><circle cx="221.4" cy="94.6" r="6.3" fill="url(#g)" opacity="0.43"/><circle cx="234.4" cy="94.9" r="6.3" fill="url(#g)" opacity="0.31"/><circle cx="25.3" cy="102.9" r="6.3" fill="url(#g)" opacity="0.49"/><circle cx="38.3" cy="103.2" r="6.3" fill="url(#g)" opacity="0.43"/><circle cx="51.3" cy="103.5" r="6.3" fill="url(#g)" opacity="0.46"/><circle cx="64.4" cy="103.8" r="6.3" fill="url(#g)" opacity="0.41"/><circle cx="77.4" cy="104.2" r="6.3" fill="url(#g)" opacity="0.49"/><circle cx="90.5" cy="104.5" r="6.3" fill="url(#g)" opacity="0.57"/><circle cx="103.5" cy="104.8" r="6.3" fill="url(#g)" opacity="0.39"/><circle cx="116.5" cy="105.1" r="6.3" fill="url(#g)" opacity="0.52"/><circle cx="129.6" cy="105.4" r="6.3" fill="url(#g)" opacity="0.84"/><circle cx="142.6" cy="105.8" r="6.3" fill="url(#g)" opacity="0.52"/><circle cx="155.7" cy="106.1" r="6.3" fill="url(#g)" opacity="0.26"/><circle cx="168.7" cy="106.4" r="6.3" fill="url(#g)" opacity="0.41"/><circle cx="181.7" cy="106.7" r="6.3" fill="url(#g)" opacity="0.31"/><circle cx="194.8" cy="107.0" r="6.3" fill="url(#g)" opacity="0.46"/><circle cx="207.8" cy="107.4" r="6.3" fill="url(#g)" opacity="0.43"/><circle cx="220.9" cy="107.7" r="6.3" fill="url(#g)" opacity="0.36"/><circle cx="233.9" cy="108.0" r="6.3" fill="url(#g)" opacity="0.46"/><circle cx="24.8" cy="116.0" r="6.3" fill="url(#g)" opacity="0.46"/><circle cx="37.8" cy="116.3" r="6.3" fill="url(#g)" opacity="0.34"/><circle cx="50.8" cy="116.6" r="6.3" fill="url(#g)" opacity="0.43"/><circle cx="63.9" cy="116.9" r="6.3" fill="url(#g)" opacity="0.36"/><circle cx="76.9" cy="117.3" r="6.3" fill="url(#g)" opacity="0.34"/><circle cx="90.0" cy="117.6" r="6.3" fill="url(#g)" opacity="0.36"/><circle cx="103.0" cy="117.9" r="6.3" fill="url(#g)" opacity="0.74"/><circle cx="116.0" cy="118.2" r="6.3" fill="url(#g)" opacity="0.49"/><circle cx="129.1" cy="118.5" r="6.3" fill="url(#g)" opacity="0.41"/><circle cx="142.1" cy="118.9" r="6.3" fill="url(#g)" opacity="0.36"/><circle cx="155.2" cy="119.2" r="6.3" fill="url(#g)" opacity="0.67"/><circle cx="168.2" cy="119.5" r="6.3" fill="url(#g)" opacity="0.43"/><circle cx="181.2" cy="119.8" r="6.3" fill="url(#g)" opacity="0.31"/><circle cx="194.3" cy="120.1" r="6.3" fill="url(#g)" opacity="0.34"/><circle cx="207.3" cy="120.5" r="6.3" fill="url(#g)" opacity="0.60"/><circle cx="220.4" cy="120.8" r="6.3" fill="url(#g)" opacity="0.41"/><circle cx="233.4" cy="121.1" r="6.3" fill="url(#g)" opacity="0.36"/><circle cx="24.3" cy="129.1" r="6.3" fill="url(#g)" opacity="0.43"/><circle cx="37.3" cy="129.4" r="6.3" fill="url(#g)" opacity="0.43"/><circle cx="50.3" cy="129.7" r="6.3" fill="url(#g)" opacity="0.54"/><circle cx="63.4" cy="130.0" r="6.3" fill="url(#g)" opacity="0.31"/><circle cx="76.4" cy="130.4" r="6.3" fill="url(#g)" opacity="0.31"/><circle cx="89.5" cy="130.7" r="6.3" fill="url(#g)" opacity="0.43"/><circle cx="102.5" cy="131.0" r="6.3" fill="url(#g)" opacity="0.43"/><circle cx="115.5" cy="131.3" r="6.3" fill="url(#g)" opacity="0.41"/><circle cx="128.6" cy="131.6" r="6.3" fill="url(#g)" opacity="0.34"/><circle cx="141.6" cy="132.0" r="6.3" fill="url(#g)" opacity="0.43"/><circle cx="154.7" cy="132.3" r="6.3" fill="url(#g)" opacity="0.43"/><circle cx="167.7" cy="132.6" r="6.3" fill="url(#g)" opacity="0.43"/><circle cx="180.7" cy="132.9" r="6.3" fill="url(#g)" opacity="0.57"/><circle cx="193.8" cy="133.2" r="6.3" fill="url(#g)" opacity="0.43"/><circle cx="206.8" cy="133.6" r="6.3" fill="url(#g)" opacity="0.46"/><circle cx="219.9" cy="133.9" r="6.3" fill="url(#g)" opacity="0.54"/><circle cx="232.9" cy="134.2" r="6.3" fill="url(#g)" opacity="0.41"/><circle cx="23.8" cy="142.2" r="6.3" fill="url(#g)" opacity="0.49"/><circle cx="36.8" cy="142.5" r="6.3" fill="url(#g)" opacity="0.49"/><circle cx="49.8" cy="142.8" r="6.3" fill="url(#g)" opacity="0.67"/><circle cx="62.9" cy="143.1" r="6.3" fill="url(#g)" opacity="0.46"/><circle cx="75.9" cy="143.5" r="6.3" fill="url(#g)" opacity="0.46"/><circle cx="89.0" cy="143.8" r="6.3" fill="url(#g)" opacity="0.64"/><circle cx="102.0" cy="144.1" r="6.3" fill="url(#g)" opacity="0.36"/><circle cx="115.0" cy="144.4" r="6.3" fill="url(#g)" opacity="0.46"/><circle cx="128.1" cy="144.7" r="6.3" fill="url(#g)" opacity="0.31"/><circle cx="141.1" cy="145.1" r="6.3" fill="url(#g)" opacity="0.43"/><circle cx="154.2" cy="145.4" r="6.3" fill="url(#g)" opacity="0.43"/><circle cx="167.2" cy="145.7" r="6.3" fill="url(#g)" opacity="0.39"/><circle cx="180.2" cy="146.0" r="6.3" fill="url(#g)" opacity="0.54"/><circle cx="193.3" cy="146.3" r="6.3" fill="url(#g)" opacity="0.34"/><circle cx="206.3" cy="146.7" r="6.3" fill="url(#g)" opacity="0.46"/><circle cx="219.4" cy="147.0" r="6.3" fill="url(#g)" opacity="0.43"/><circle cx="232.4" cy="147.3" r="6.3" fill="url(#g)" opacity="0.39"/><circle cx="23.3" cy="155.3" r="6.3" fill="url(#g)" opacity="0.77"/><circle cx="36.3" cy="155.6" r="6.3" fill="url(#g)" opacity="0.52"/><circle cx="49.3" cy="155.9" r="6.3" fill="url(#g)" opacity="0.43"/><circle cx="62.4" cy="156.2" r="6.3" fill="url(#g)" opacity="0.49"/><circle cx="75.4" cy="156.6" r="6.3" fill="url(#g)" opacity="0.43"/><circle cx="88.5" cy="156.9" r="6.3" fill="url(#g)" opacity="0.39"/><circle cx="101.5" cy="157.2" r="6.3" fill="url(#g)" opacity="0.52"/><circle cx="114.5" cy="157.5" r="6.3" fill="url(#g)" opacity="0.43"/><circle cx="127.6" cy="157.8" r="6.3" fill="url(#g)" opacity="0.52"/><circle cx="140.6" cy="158.2" r="6.3" fill="url(#g)" opacity="0.46"/><circle cx="153.7" cy="158.5" r="6.3" fill="url(#g)" opacity="0.49"/><circle cx="166.7" cy="158.8" r="6.3" fill="url(#g)" opacity="0.43"/><circle cx="179.7" cy="159.1" r="6.3" fill="url(#g)" opacity="0.36"/><circle cx="192.8" cy="159.4" r="6.3" fill="url(#g)" opacity="0.57"/><circle cx="205.8" cy="159.8" r="6.3" fill="url(#g)" opacity="0.52"/><circle cx="218.9" cy="160.1" r="6.3" fill="url(#g)" opacity="0.43"/><circle cx="231.9" cy="160.4" r="6.3" fill="url(#g)" opacity="0.43"/>
</g>
</svg>
<rect x="384.4" y="28.4" width="245.2" height="183.2" fill="none" stroke="#000" stroke-opacity="0.4" stroke-width="0.8"/>
<rect x="280" y="28" width="12.3" height="184.5" fill="url(#cb)" stroke="#000" stroke-opacity="0.35" stroke-width="0.8"/>
<rect x="635" y="28" width="12.3" height="184" fill="url(#cb)" stroke="#000" stroke-opacity="0.35" stroke-width="0.8"/>
<g stroke="#262626" stroke-width="0.8" stroke-opacity="0.3"><line x1="39.5" y1="212.5" x2="42.0" y2="212.5"/><line x1="39.5" y1="188.4" x2="42.0" y2="188.4"/><line x1="39.5" y1="164.2" x2="42.0" y2="164.2"/><line x1="39.5" y1="140.1" x2="42.0" y2="140.1"/><line x1="39.5" y1="115.9" x2="42.0" y2="115.9"/><line x1="39.5" y1="91.8" x2="42.0" y2="91.8"/><line x1="39.5" y1="67.6" x2="42.0" y2="67.6"/><line x1="39.5" y1="43.5" x2="42.0" y2="43.5"/><line x1="42.0" y1="212.5" x2="42.0" y2="215.0"/><line x1="90.5" y1="212.5" x2="90.5" y2="215.0"/><line x1="139.0" y1="212.5" x2="139.0" y2="215.0"/><line x1="187.5" y1="212.5" x2="187.5" y2="215.0"/><line x1="236.0" y1="212.5" x2="236.0" y2="215.0"/><line x1="292.3" y1="212.6" x2="294.5" y2="212.6"/><line x1="292.3" y1="189.5" x2="294.5" y2="189.5"/><line x1="292.3" y1="166.4" x2="294.5" y2="166.4"/><line x1="292.3" y1="143.3" x2="294.5" y2="143.3"/><line x1="292.3" y1="120.2" x2="294.5" y2="120.2"/><line x1="292.3" y1="97.0" x2="294.5" y2="97.0"/><line x1="292.3" y1="73.9" x2="294.5" y2="73.9"/><line x1="292.3" y1="50.8" x2="294.5" y2="50.8"/><line x1="381.5" y1="208.7" x2="384.0" y2="208.7"/><line x1="381.5" y1="186.8" x2="384.0" y2="186.8"/><line x1="381.5" y1="164.8" x2="384.0" y2="164.8"/><line x1="381.5" y1="142.9" x2="384.0" y2="142.9"/><line x1="381.5" y1="121.0" x2="384.0" y2="121.0"/><line x1="381.5" y1="99.1" x2="384.0" y2="99.1"/><line x1="381.5" y1="77.2" x2="384.0" y2="77.2"/><line x1="381.5" y1="55.2" x2="384.0" y2="55.2"/><line x1="381.5" y1="33.3" x2="384.0" y2="33.3"/><line x1="401.3" y1="212.0" x2="401.3" y2="214.5"/><line x1="445.2" y1="212.0" x2="445.2" y2="214.5"/><line x1="489.2" y1="212.0" x2="489.2" y2="214.5"/><line x1="533.1" y1="212.0" x2="533.1" y2="214.5"/><line x1="577.1" y1="212.0" x2="577.1" y2="214.5"/><line x1="621.0" y1="212.0" x2="621.0" y2="214.5"/><line x1="647.3" y1="203.0" x2="649.5" y2="203.0"/><line x1="647.3" y1="178.2" x2="649.5" y2="178.2"/><line x1="647.3" y1="153.3" x2="649.5" y2="153.3"/><line x1="647.3" y1="128.5" x2="649.5" y2="128.5"/><line x1="647.3" y1="103.7" x2="649.5" y2="103.7"/><line x1="647.3" y1="78.9" x2="649.5" y2="78.9"/><line x1="647.3" y1="54.0" x2="649.5" y2="54.0"/><line x1="647.3" y1="29.2" x2="649.5" y2="29.2"/></g>
<g filter="url(#tb)"><text x="4.2" y="16.0" text-anchor="start" font-size="18" >a)</text><text x="351.8" y="16.0" text-anchor="start" font-size="18" >b)</text><text x="38.0" y="216.2" text-anchor="end" font-size="10.2" >30</text><text x="38.0" y="192.0" text-anchor="end" font-size="10.2" >35</text><text x="38.0" y="167.9" text-anchor="end" font-size="10.2" >40</text><text x="38.0" y="143.7" text-anchor="end" font-size="10.2" >45</text><text x="38.0" y="119.6" text-anchor="end" font-size="10.2" >50</text><text x="38.0" y="95.4" text-anchor="end" font-size="10.2" >55</text><text x="38.0" y="71.3" text-anchor="end" font-size="10.2" >60</text><text x="38.0" y="47.1" text-anchor="end" font-size="10.2" >65</text><text x="42.0" y="223.1" text-anchor="middle" font-size="10.2" >10</text><text x="90.5" y="223.1" text-anchor="middle" font-size="10.2" >20</text><text x="139.0" y="223.1" text-anchor="middle" font-size="10.2" >30</text><text x="187.5" y="223.1" text-anchor="middle" font-size="10.2" >40</text><text x="236.0" y="223.1" text-anchor="middle" font-size="10.2" >50</text><text x="296.0" y="216.3" text-anchor="start" font-size="10.2" >0.150</text><text x="296.0" y="193.1" text-anchor="start" font-size="10.2" >0.175</text><text x="296.0" y="170.0" text-anchor="start" font-size="10.2" >0.200</text><text x="296.0" y="146.9" text-anchor="start" font-size="10.2" >0.225</text><text x="296.0" y="123.8" text-anchor="start" font-size="10.2" >0.250</text><text x="296.0" y="100.7" text-anchor="start" font-size="10.2" >0.275</text><text x="296.0" y="77.6" text-anchor="start" font-size="10.2" >0.300</text><text x="296.0" y="54.5" text-anchor="start" font-size="10.2" >0.325</text><text x="380.0" y="212.4" text-anchor="end" font-size="10.2" >45</text><text x="380.0" y="190.4" text-anchor="end" font-size="10.2" >50</text><text x="380.0" y="168.5" text-anchor="end" font-size="10.2" >55</text><text x="380.0" y="146.6" text-anchor="end" font-size="10.2" >60</text><text x="380.0" y="124.7" text-anchor="end" font-size="10.2" >65</text><text x="380.0" y="102.7" text-anchor="end" font-size="10.2" >70</text><text x="380.0" y="80.8" text-anchor="end" font-size="10.2" >75</text><text x="380.0" y="58.9" text-anchor="end" font-size="10.2" >80</text><text x="380.0" y="37.0" text-anchor="end" font-size="10.2" >85</text><text x="401.3" y="223.1" text-anchor="middle" font-size="10.2" >20</text><text x="445.2" y="223.1" text-anchor="middle" font-size="10.2" >30</text><text x="489.2" y="223.1" text-anchor="middle" font-size="10.2" >40</text><text x="533.1" y="223.1" text-anchor="middle" font-size="10.2" >50</text><text x="577.1" y="223.1" text-anchor="middle" font-size="10.2" >60</text><text x="621.0" y="223.1" text-anchor="middle" font-size="10.2" >70</text><text x="651.0" y="206.7" text-anchor="start" font-size="10.2" >0.25</text><text x="651.0" y="181.8" text-anchor="start" font-size="10.2" >0.50</text><text x="651.0" y="157.0" text-anchor="start" font-size="10.2" >0.75</text><text x="651.0" y="132.2" text-anchor="start" font-size="10.2" >1.00</text><text x="651.0" y="107.3" text-anchor="start" font-size="10.2" >1.25</text><text x="651.0" y="82.5" text-anchor="start" font-size="10.2" >1.50</text><text x="651.0" y="57.7" text-anchor="start" font-size="10.2" >1.75</text><text x="651.0" y="32.8" text-anchor="start" font-size="10.2" >2.00</text><text x="158.8" y="235.7" text-anchor="middle" font-size="11.1" >X position (<tspan font-style="italic">μ</tspan>m)</text><text x="507.0" y="235.7" text-anchor="middle" font-size="11.1" >X position (<tspan font-style="italic">μ</tspan>m)</text><text transform="translate(21.3,121.5) rotate(-90)" x="0" y="0" text-anchor="middle" font-size="11.1">Y position (<tspan font-style="italic">μ</tspan>m)</text><text transform="translate(362.5,120.8) rotate(-90)" x="0" y="0" text-anchor="middle" font-size="11.1">Y position (<tspan font-style="italic">μ</tspan>m)</text><text transform="translate(331.3,120.8) rotate(-90)" x="0" y="0" text-anchor="middle" font-size="10.6">Fluorescence (Mc/s)</text><text transform="translate(681.6,121.0) rotate(-90)" x="0" y="0" text-anchor="middle" font-size="10.6">Fluorescence (Mc/s)</text></g>
</svg>
</body></html>
